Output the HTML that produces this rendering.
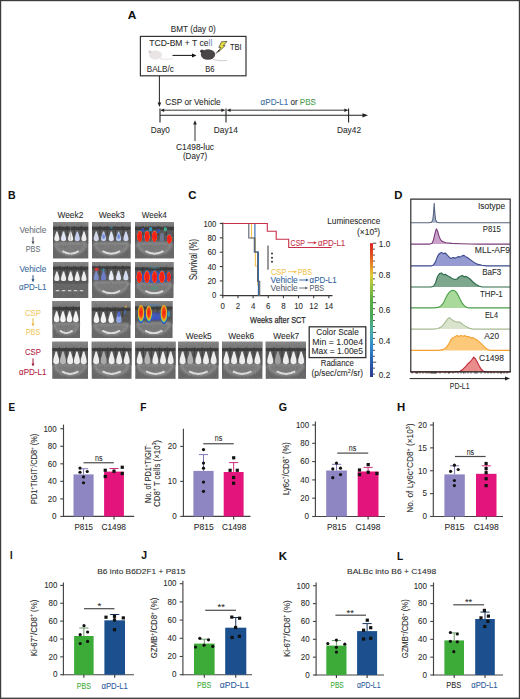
<!DOCTYPE html>
<html><head><meta charset="utf-8"><title>Figure</title>
<style>
html,body{margin:0;padding:0;background:#fff;}
body{width:520px;height:699px;overflow:hidden;}
svg{display:block;font-family:"Liberation Sans", sans-serif;}
</style></head><body>
<svg width="520" height="699" viewBox="0 0 520 699">
<rect x="0" y="0" width="520" height="699" fill="#fff"/>
<rect x="0" y="0" width="520" height="1.2" fill="#3c3c3c"/>
<rect x="0" y="0" width="1.2" height="699" fill="#3c3c3c"/>
<rect x="518.8" y="0" width="1.2" height="699" fill="#3c3c3c"/>
<rect x="0" y="697.6" width="520" height="1.4" fill="#444"/>
<text x="127.7" y="18.5" font-size="10.3" fill="#111" stroke="#111" stroke-width="0.08" font-weight="bold" textLength="8.6" lengthAdjust="spacingAndGlyphs" >A</text>
<text x="170.8" y="32.1" font-size="8.8" fill="#2b2b2b" stroke="#2b2b2b" stroke-width="0.08" textLength="45" lengthAdjust="spacingAndGlyphs" >BMT (day 0)</text>
<rect x="140.4" y="36.4" width="105.6" height="39.4" fill="none" stroke="#333" stroke-width="1.2"/>
<text x="149.3" y="46.2" font-size="8.8" fill="#2b2b2b" stroke="#2b2b2b" stroke-width="0.08" textLength="63" lengthAdjust="spacingAndGlyphs" >TCD-BM + T ce<tspan fill="#9a9ad8">ll</tspan></text>
<text x="230" y="49.8" font-size="8.4" fill="#2b2b2b" stroke="#2b2b2b" stroke-width="0.08" textLength="11.7" lengthAdjust="spacingAndGlyphs" >TBI</text>
<text x="146.8" y="72.3" font-size="8.8" fill="#2b2b2b" stroke="#2b2b2b" stroke-width="0.08" textLength="27" lengthAdjust="spacingAndGlyphs" >BALB/c</text>
<text x="205.2" y="72.3" font-size="8.8" fill="#2b2b2b" stroke="#2b2b2b" stroke-width="0.08" textLength="9.3" lengthAdjust="spacingAndGlyphs" >B6</text>
<g fill="#ebe4e4" stroke="none"><ellipse cx="155.5" cy="55" rx="6.5" ry="4.6"/><ellipse cx="150" cy="51.8" rx="1.6" ry="1.6" fill="#d8d0d0"/><path d="M160 58.8 Q167 60 173 58.6" stroke="#e6dede" stroke-width="0.9" fill="none"/></g>
<line x1="172.5" y1="55.4" x2="194" y2="55.4" stroke="#111" stroke-width="1.0"/>
<polygon points="196.5,55.4 192,53.4 192,57.4" fill="#111"/>
<g><ellipse cx="208" cy="54.5" rx="7.2" ry="5.2" fill="#4a4547"/><ellipse cx="202" cy="51.2" rx="1.9" ry="1.7" fill="#3d393b"/><path d="M213 59.5 Q220 61.5 227 60.5" stroke="#cfcfcf" stroke-width="1" fill="none"/></g>
<line x1="216.2" y1="53.4" x2="219.5" y2="49.5" stroke="#111" stroke-width="0.9"/>
<polygon points="221.5,41.8 227,41.4 223.2,45.6 225.2,45.6 218.4,52 220.8,47.4 218.8,47.4" fill="#e8e040" stroke="#222" stroke-width="0.6"/>
<line x1="159.4" y1="75.8" x2="159.4" y2="104" stroke="#222" stroke-width="1.0"/>
<polygon points="159.4,107 157.6,102.6 161.2,102.6" fill="#222"/>
<text x="165.3" y="105.4" font-size="8.3" fill="#2b2b2b" stroke="#2b2b2b" stroke-width="0.08" textLength="55.4" lengthAdjust="spacingAndGlyphs" >CSP or Vehicle</text>
<text x="260.6" y="104.6" font-size="8.3" fill="#2b2b2b" stroke="#2b2b2b" stroke-width="0.08" textLength="55.4" lengthAdjust="spacingAndGlyphs" ><tspan fill="#3a74b4">αPD-L1</tspan> or <tspan fill="#4caf50">PBS</tspan></text>
<line x1="160" y1="115.3" x2="364" y2="115.3" stroke="#222" stroke-width="1.1"/>
<polygon points="368,115.3 362.5,113.2 362.5,117.4" fill="#222"/>
<line x1="161" y1="110.2" x2="224.5" y2="110.2" stroke="#222" stroke-width="0.9"/>
<polygon points="160.6,110.2 164.2,108.4 164.2,112" fill="#222"/>
<polygon points="225,110.2 221.4,108.4 221.4,112" fill="#222"/>
<line x1="227.5" y1="110.2" x2="347.5" y2="110.2" stroke="#222" stroke-width="0.9"/>
<polygon points="227,110.2 230.6,108.4 230.6,112" fill="#222"/>
<polygon points="348,110.2 344.4,108.4 344.4,112" fill="#222"/>
<line x1="160" y1="108.5" x2="160" y2="122.6" stroke="#222" stroke-width="1.1"/>
<line x1="226" y1="108.5" x2="226" y2="122.6" stroke="#222" stroke-width="1.1"/>
<line x1="348.6" y1="108.5" x2="348.6" y2="122.6" stroke="#222" stroke-width="1.1"/>
<text x="150.8" y="132.6" font-size="8.3" fill="#2b2b2b" stroke="#2b2b2b" stroke-width="0.08" textLength="19" lengthAdjust="spacingAndGlyphs" >Day0</text>
<text x="213.8" y="132.6" font-size="8.3" fill="#2b2b2b" stroke="#2b2b2b" stroke-width="0.08" textLength="24" lengthAdjust="spacingAndGlyphs" >Day14</text>
<text x="337" y="132.6" font-size="8.3" fill="#2b2b2b" stroke="#2b2b2b" stroke-width="0.08" textLength="24" lengthAdjust="spacingAndGlyphs" >Day42</text>
<line x1="195" y1="124" x2="195" y2="141" stroke="#333" stroke-width="1.0"/>
<polygon points="195,120.2 193.2,124.6 196.8,124.6" fill="#222"/>
<text x="176" y="149.8" font-size="8.6" fill="#2b2b2b" stroke="#2b2b2b" stroke-width="0.08" textLength="38" lengthAdjust="spacingAndGlyphs" >C1498-luc</text>
<text x="182.9" y="159.4" font-size="8.6" fill="#2b2b2b" stroke="#2b2b2b" stroke-width="0.08" textLength="24.2" lengthAdjust="spacingAndGlyphs" >(Day7)</text>
<text x="8" y="198.8" font-size="10.3" fill="#111" stroke="#111" stroke-width="0.08" font-weight="bold" textLength="7.6" lengthAdjust="spacingAndGlyphs" >B</text>
<text x="57.5" y="218.1" font-size="9.2" fill="#2b2b2b" stroke="#2b2b2b" stroke-width="0.08" textLength="25.8" lengthAdjust="spacingAndGlyphs" >Week2</text>
<text x="98.7" y="218.1" font-size="9.2" fill="#2b2b2b" stroke="#2b2b2b" stroke-width="0.08" textLength="26" lengthAdjust="spacingAndGlyphs" >Week3</text>
<text x="141.8" y="218.1" font-size="9.2" fill="#2b2b2b" stroke="#2b2b2b" stroke-width="0.08" textLength="25" lengthAdjust="spacingAndGlyphs" >Week4</text>
<text x="185.8" y="338.8" font-size="9.2" fill="#2b2b2b" stroke="#2b2b2b" stroke-width="0.08" textLength="26" lengthAdjust="spacingAndGlyphs" >Week5</text>
<text x="228.3" y="338.8" font-size="9.2" fill="#2b2b2b" stroke="#2b2b2b" stroke-width="0.08" textLength="26" lengthAdjust="spacingAndGlyphs" >Week6</text>
<text x="273.3" y="338.8" font-size="9.2" fill="#2b2b2b" stroke="#2b2b2b" stroke-width="0.08" textLength="26" lengthAdjust="spacingAndGlyphs" >Week7</text>
<text x="19.4" y="233" font-size="8.6" fill="#6a717c" stroke="#6a717c" stroke-width="0.08" textLength="27" lengthAdjust="spacingAndGlyphs" >Vehicle</text>
<line x1="33" y1="236.9" x2="33" y2="242.20000000000002" stroke="#4a4f58" stroke-width="1.0"/>
<polygon points="33,244.4 31.5,241.4 34.5,241.4" fill="#4a4f58"/>
<text x="25.7" y="252.1" font-size="8.6" fill="#6a717c" stroke="#6a717c" stroke-width="0.08" textLength="14.6" lengthAdjust="spacingAndGlyphs" >PBS</text>
<text x="19.4" y="271.6" font-size="8.6" fill="#3a6a9e" stroke="#3a6a9e" stroke-width="0.08" textLength="27" lengthAdjust="spacingAndGlyphs" >Vehicle</text>
<line x1="33" y1="275.2" x2="33" y2="280.0" stroke="#23497a" stroke-width="1.0"/>
<polygon points="33,282.2 31.5,279.2 34.5,279.2" fill="#23497a"/>
<text x="19" y="290.4" font-size="8.6" fill="#3a6a9e" stroke="#3a6a9e" stroke-width="0.08" textLength="27.4" lengthAdjust="spacingAndGlyphs" >αPD-L1</text>
<text x="25" y="315.8" font-size="8.6" fill="#f2c95e" stroke="#f2c95e" stroke-width="0.08" textLength="15.9" lengthAdjust="spacingAndGlyphs" >CSP</text>
<line x1="33" y1="318.2" x2="33" y2="324.2" stroke="#e8b640" stroke-width="1.0"/>
<polygon points="33,326.4 31.5,323.4 34.5,323.4" fill="#e8b640"/>
<text x="25.7" y="334.7" font-size="8.6" fill="#f2c95e" stroke="#f2c95e" stroke-width="0.08" textLength="14.6" lengthAdjust="spacingAndGlyphs" >PBS</text>
<text x="25" y="355.4" font-size="8.6" fill="#b3213f" stroke="#b3213f" stroke-width="0.08" textLength="15.9" lengthAdjust="spacingAndGlyphs" >CSP</text>
<line x1="33" y1="358.4" x2="33" y2="364.40000000000003" stroke="#a01838" stroke-width="1.0"/>
<polygon points="33,366.6 31.5,363.6 34.5,363.6" fill="#a01838"/>
<text x="19" y="374.8" font-size="8.6" fill="#b3213f" stroke="#b3213f" stroke-width="0.08" textLength="27.4" lengthAdjust="spacingAndGlyphs" >αPD-L1</text>
<defs><filter id="bl" x="-20%" y="-20%" width="140%" height="140%"><feGaussianBlur stdDeviation="0.45"/></filter><filter id="bl2" x="-30%" y="-30%" width="160%" height="160%"><feGaussianBlur stdDeviation="0.8"/></filter></defs>
<defs><linearGradient id="topg" x1="0" y1="0" x2="0" y2="1"><stop offset="0" stop-color="#787878"/><stop offset="1" stop-color="#626262"/></linearGradient><filter id="nz" x="0" y="0" width="1" height="1" filterUnits="objectBoundingBox"><feTurbulence type="fractalNoise" baseFrequency="0.9 0.35" numOctaves="2" seed="5" result="t"/><feColorMatrix type="matrix" values="0.33 0.33 0.33 0 0  0.33 0.33 0.33 0 0  0.33 0.33 0.33 0 0  0 0 0 0 1"/></filter></defs>
<defs><radialGradient id="hA"><stop offset="0" stop-color="#f41c10"/><stop offset="0.68" stop-color="#f2261a"/><stop offset="0.8" stop-color="#e86020"/><stop offset="0.9" stop-color="#4878c0" stop-opacity="0.8"/><stop offset="1" stop-color="#3048c0" stop-opacity="0"/></radialGradient><radialGradient id="hB" cy="0.4" r="0.6"><stop offset="0" stop-color="#f41c10"/><stop offset="0.4" stop-color="#f04a14"/><stop offset="0.58" stop-color="#f0a020"/><stop offset="0.7" stop-color="#c0c830"/><stop offset="0.8" stop-color="#30a0c8"/><stop offset="0.9" stop-color="#2c44c0"/><stop offset="1" stop-color="#2c44c0" stop-opacity="0"/></radialGradient><radialGradient id="hC"><stop offset="0" stop-color="#4a6ad0"/><stop offset="0.6" stop-color="#3a52c0"/><stop offset="1" stop-color="#3048b8" stop-opacity="0"/></radialGradient></defs>
<g><rect x="53" y="222" width="35.20" height="36.40" fill="#505050"/><rect x="53" y="222" width="35.20" height="4.73" fill="url(#topg)"/><rect x="53" y="226.73" width="35.20" height="3.28" fill="#1a1a1a"/><rect x="53" y="230.01" width="35.20" height="13.83" fill="#3c3c3c"/><path d="M55.11,242.75 C55.82,258.40 85.38,258.40 86.09,242.75 Z" fill="#686868" stroke="#8e8e8e" stroke-width="1.5" filter="url(#bl2)"/><path d="M62.50,251.12 Q70.60,256.22 78.70,251.12" fill="none" stroke="#e4e4e4" stroke-width="1.9" filter="url(#bl)"/><rect x="59.44" y="226.00" width="1.2" height="9.83" fill="#161616" opacity="0.8"/><rect x="66.48" y="226.00" width="1.2" height="9.83" fill="#161616" opacity="0.8"/><rect x="73.52" y="226.00" width="1.2" height="9.83" fill="#161616" opacity="0.8"/><rect x="80.56" y="226.00" width="1.2" height="9.83" fill="#161616" opacity="0.8"/><rect x="53" y="222" width="35.20" height="36.40" filter="url(#nz)" opacity="0.22"/><path d="M56.32,231.46 L57.42,231.46 C58.25,234.52 59.72,237.78 59.40,239.62 C59.08,241.86 54.66,241.86 54.34,239.62 C54.02,237.78 55.49,234.52 56.32,231.46Z" fill="#ededed" filter="url(#bl)"/><path d="M63.01,231.46 L64.11,231.46 C64.94,234.52 66.41,237.78 66.09,239.62 C65.77,241.86 61.35,241.86 61.03,239.62 C60.71,237.78 62.18,234.52 63.01,231.46Z" fill="#dfe4f4" filter="url(#bl)"/><path d="M70.05,231.46 L71.15,231.46 C71.98,234.52 73.45,237.78 73.13,239.62 C72.81,241.86 68.39,241.86 68.07,239.62 C67.75,237.78 69.22,234.52 70.05,231.46Z" fill="#ededed" filter="url(#bl)"/><path d="M76.74,231.46 L77.84,231.46 C78.67,234.52 80.14,237.78 79.82,239.62 C79.50,241.86 75.08,241.86 74.76,239.62 C74.44,237.78 75.91,234.52 76.74,231.46Z" fill="#c8d0f0" filter="url(#bl)"/><path d="M83.42,231.46 L84.53,231.46 C85.36,234.52 86.83,237.78 86.51,239.62 C86.18,241.86 81.77,241.86 81.45,239.62 C81.12,237.78 82.60,234.52 83.42,231.46Z" fill="#ededed" filter="url(#bl)"/><rect x="70.20" y="222" width="0.8" height="36.40" fill="#888" opacity="0.5"/></g>
<g><rect x="92" y="222" width="38.60" height="36.40" fill="#505050"/><rect x="92" y="222" width="38.60" height="4.73" fill="url(#topg)"/><rect x="92" y="226.73" width="38.60" height="3.28" fill="#1a1a1a"/><rect x="92" y="230.01" width="38.60" height="13.83" fill="#3c3c3c"/><path d="M94.32,242.75 C95.09,258.40 127.51,258.40 128.28,242.75 Z" fill="#686868" stroke="#8e8e8e" stroke-width="1.5" filter="url(#bl2)"/><path d="M102.42,251.12 Q111.30,256.22 120.18,251.12" fill="none" stroke="#e4e4e4" stroke-width="1.9" filter="url(#bl)"/><rect x="99.12" y="226.00" width="1.2" height="9.83" fill="#161616" opacity="0.8"/><rect x="106.84" y="226.00" width="1.2" height="9.83" fill="#161616" opacity="0.8"/><rect x="114.56" y="226.00" width="1.2" height="9.83" fill="#161616" opacity="0.8"/><rect x="122.28" y="226.00" width="1.2" height="9.83" fill="#161616" opacity="0.8"/><rect x="92" y="222" width="38.60" height="36.40" filter="url(#nz)" opacity="0.22"/><path d="M95.69,231.46 L96.80,231.46 C97.63,234.52 99.10,237.78 98.78,239.62 C98.45,241.86 94.04,241.86 93.72,239.62 C93.39,237.78 94.87,234.52 95.69,231.46Z" fill="#d2d8ea" filter="url(#bl)"/><path d="M103.03,231.46 L104.13,231.46 C104.96,234.52 106.43,237.78 106.11,239.62 C105.79,241.86 101.37,241.86 101.05,239.62 C100.73,237.78 102.20,234.52 103.03,231.46Z" fill="#c0cdef" filter="url(#bl)"/><path d="M110.75,231.46 L111.85,231.46 C112.68,234.52 114.15,237.78 113.83,239.62 C113.51,241.86 109.09,241.86 108.77,239.62 C108.45,237.78 109.92,234.52 110.75,231.46Z" fill="#dde3f0" filter="url(#bl)"/><path d="M118.08,231.46 L119.19,231.46 C120.01,234.52 121.49,237.78 121.16,239.62 C120.84,241.86 116.43,241.86 116.10,239.62 C115.78,237.78 117.25,234.52 118.08,231.46Z" fill="#b8c9ee" filter="url(#bl)"/><path d="M125.42,231.46 L126.52,231.46 C127.35,234.52 128.82,237.78 128.50,239.62 C128.18,241.86 123.76,241.86 123.44,239.62 C123.12,237.78 124.59,234.52 125.42,231.46Z" fill="#cfd8f0" filter="url(#bl)"/><ellipse cx="103.58" cy="236.56" rx="1.4" ry="2.5" fill="#3a52c8" opacity="0.5" filter="url(#bl)"/><ellipse cx="118.63" cy="236.56" rx="1.4" ry="2.5" fill="#3a52c8" opacity="0.5" filter="url(#bl)"/><ellipse cx="111.30" cy="227.46" rx="1.5" ry="1.5" fill="#30a0c8" opacity="0.4" filter="url(#bl)"/></g>
<g><rect x="135" y="222" width="39.00" height="36.40" fill="#505050"/><rect x="135" y="222" width="39.00" height="4.73" fill="url(#topg)"/><rect x="135" y="226.73" width="39.00" height="3.28" fill="#1a1a1a"/><rect x="135" y="230.01" width="39.00" height="13.83" fill="#3c3c3c"/><path d="M137.34,242.75 C138.12,258.40 170.88,258.40 171.66,242.75 Z" fill="#686868" stroke="#8e8e8e" stroke-width="1.5" filter="url(#bl2)"/><path d="M145.53,251.12 Q154.50,256.22 163.47,251.12" fill="none" stroke="#e4e4e4" stroke-width="1.9" filter="url(#bl)"/><rect x="142.20" y="226.00" width="1.2" height="9.83" fill="#161616" opacity="0.8"/><rect x="150.00" y="226.00" width="1.2" height="9.83" fill="#161616" opacity="0.8"/><rect x="157.80" y="226.00" width="1.2" height="9.83" fill="#161616" opacity="0.8"/><rect x="165.60" y="226.00" width="1.2" height="9.83" fill="#161616" opacity="0.8"/><rect x="135" y="222" width="39.00" height="36.40" filter="url(#nz)" opacity="0.22"/><ellipse cx="139.68" cy="236.56" rx="3.1" ry="6.8" fill="url(#hA)" opacity="1" filter="url(#bl)"/><ellipse cx="147.09" cy="236.56" rx="3.1" ry="6.8" fill="url(#hA)" opacity="1" filter="url(#bl)"/><ellipse cx="154.50" cy="236.56" rx="3.1" ry="6.8" fill="url(#hA)" opacity="1" filter="url(#bl)"/><ellipse cx="169.32" cy="239.11" rx="3.0" ry="5.6" fill="url(#hA)" opacity="1" filter="url(#bl)"/><ellipse cx="161.91" cy="237.29" rx="2.0" ry="4.5" fill="#707890" opacity="1" filter="url(#bl)"/><ellipse cx="150.60" cy="229.28" rx="1.6" ry="2.2" fill="#30a0c8" opacity="0.9" filter="url(#bl)"/><ellipse cx="165.42" cy="229.28" rx="1.6" ry="2.2" fill="#40c0a0" opacity="0.8" filter="url(#bl)"/><ellipse cx="142.80" cy="230.01" rx="1.4" ry="2" fill="#3a52c8" opacity="0.8" filter="url(#bl)"/><ellipse cx="158.40" cy="230.74" rx="1.4" ry="2.2" fill="#3a52c8" opacity="0.8" filter="url(#bl)"/></g>
<g><rect x="53" y="262" width="35.20" height="36.00" fill="#505050"/><rect x="53" y="262" width="35.20" height="4.68" fill="url(#topg)"/><rect x="53" y="266.68" width="35.20" height="3.24" fill="#1a1a1a"/><rect x="53" y="269.92" width="35.20" height="13.68" fill="#3c3c3c"/><rect x="55.82" y="290.08" width="3.52" height="1.2" fill="#e0e0e0" filter="url(#bl)"/><rect x="61.80" y="290.08" width="3.52" height="1.2" fill="#e0e0e0" filter="url(#bl)"/><rect x="67.78" y="290.08" width="3.52" height="1.2" fill="#e0e0e0" filter="url(#bl)"/><rect x="73.77" y="290.08" width="3.52" height="1.2" fill="#e0e0e0" filter="url(#bl)"/><rect x="79.75" y="290.08" width="3.52" height="1.2" fill="#e0e0e0" filter="url(#bl)"/><rect x="59.44" y="265.96" width="1.2" height="9.72" fill="#161616" opacity="0.8"/><rect x="66.48" y="265.96" width="1.2" height="9.72" fill="#161616" opacity="0.8"/><rect x="73.52" y="265.96" width="1.2" height="9.72" fill="#161616" opacity="0.8"/><rect x="80.56" y="265.96" width="1.2" height="9.72" fill="#161616" opacity="0.8"/><rect x="53" y="262" width="35.20" height="36.00" filter="url(#nz)" opacity="0.22"/><path d="M56.32,271.40 L57.42,271.40 C58.25,274.40 59.72,277.60 59.40,279.40 C59.08,281.60 54.66,281.60 54.34,279.40 C54.02,277.60 55.49,274.40 56.32,271.40Z" fill="#ededed" filter="url(#bl)"/><path d="M63.01,271.40 L64.11,271.40 C64.94,274.40 66.41,277.60 66.09,279.40 C65.77,281.60 61.35,281.60 61.03,279.40 C60.71,277.60 62.18,274.40 63.01,271.40Z" fill="#ededed" filter="url(#bl)"/><path d="M70.05,271.40 L71.15,271.40 C71.98,274.40 73.45,277.60 73.13,279.40 C72.81,281.60 68.39,281.60 68.07,279.40 C67.75,277.60 69.22,274.40 70.05,271.40Z" fill="#ededed" filter="url(#bl)"/><path d="M76.74,271.40 L77.84,271.40 C78.67,274.40 80.14,277.60 79.82,279.40 C79.50,281.60 75.08,281.60 74.76,279.40 C74.44,277.60 75.91,274.40 76.74,271.40Z" fill="#ededed" filter="url(#bl)"/><path d="M83.42,271.40 L84.53,271.40 C85.36,274.40 86.83,277.60 86.51,279.40 C86.18,281.60 81.77,281.60 81.45,279.40 C81.12,277.60 82.60,274.40 83.42,271.40Z" fill="#ededed" filter="url(#bl)"/></g>
<g><rect x="92" y="262" width="38.50" height="36.00" fill="#505050"/><rect x="92" y="262" width="38.50" height="4.32" fill="url(#topg)"/><rect x="92" y="266.32" width="38.50" height="3.24" fill="#1a1a1a"/><rect x="92" y="269.56" width="38.50" height="13.32" fill="#3c3c3c"/><path d="M94.31,281.80 C95.08,298.00 127.42,298.00 128.19,281.80 Z" fill="#686868" stroke="#8e8e8e" stroke-width="1.5" filter="url(#bl2)"/><path d="M102.39,290.80 Q111.25,295.84 120.11,290.80" fill="none" stroke="#e4e4e4" stroke-width="1.9" filter="url(#bl)"/><rect x="99.10" y="265.60" width="1.2" height="9.36" fill="#161616" opacity="0.8"/><rect x="106.80" y="265.60" width="1.2" height="9.36" fill="#161616" opacity="0.8"/><rect x="114.50" y="265.60" width="1.2" height="9.36" fill="#161616" opacity="0.8"/><rect x="122.20" y="265.60" width="1.2" height="9.36" fill="#161616" opacity="0.8"/><rect x="92" y="262" width="38.50" height="36.00" filter="url(#nz)" opacity="0.22"/><path d="M95.68,270.68 L96.79,270.68 C97.61,273.68 99.09,276.88 98.77,278.68 C98.44,280.88 94.03,280.88 93.70,278.68 C93.38,276.88 94.86,273.68 95.68,270.68Z" fill="#7c8cc4" filter="url(#bl)"/><path d="M103.00,270.68 L104.10,270.68 C104.93,273.68 106.40,276.88 106.08,278.68 C105.76,280.88 101.34,280.88 101.02,278.68 C100.70,276.88 102.17,273.68 103.00,270.68Z" fill="#6c7cc8" filter="url(#bl)"/><path d="M110.70,270.68 L111.80,270.68 C112.63,273.68 114.10,276.88 113.78,278.68 C113.46,280.88 109.04,280.88 108.72,278.68 C108.40,276.88 109.87,273.68 110.70,270.68Z" fill="#e6eaf4" filter="url(#bl)"/><path d="M118.01,270.68 L119.12,270.68 C119.94,273.68 121.42,276.88 121.09,278.68 C120.77,280.88 116.36,280.88 116.03,278.68 C115.71,276.88 117.19,273.68 118.01,270.68Z" fill="#dce2f2" filter="url(#bl)"/><path d="M125.33,270.68 L126.43,270.68 C127.26,273.68 128.73,276.88 128.41,278.68 C128.09,280.88 123.67,280.88 123.35,278.68 C123.03,276.88 124.50,273.68 125.33,270.68Z" fill="#d2daf0" filter="url(#bl)"/><ellipse cx="96.62" cy="269.20" rx="2.0" ry="1.8" fill="#e03030" opacity="0.9" filter="url(#bl)"/><ellipse cx="103.55" cy="269.92" rx="1.2" ry="1.8" fill="#30a0c8" opacity="0.6" filter="url(#bl)"/></g>
<g><rect x="135" y="262" width="38.50" height="36.00" fill="#505050"/><rect x="135" y="262" width="38.50" height="5.40" fill="url(#topg)"/><rect x="135" y="267.40" width="38.50" height="3.24" fill="#1a1a1a"/><rect x="135" y="270.64" width="38.50" height="13.68" fill="#3c3c3c"/><path d="M137.31,283.24 C138.08,298.00 170.42,298.00 171.19,283.24 Z" fill="#686868" stroke="#8e8e8e" stroke-width="1.5" filter="url(#bl2)"/><path d="M145.40,290.80 Q154.25,295.84 163.10,290.80" fill="none" stroke="#e4e4e4" stroke-width="1.9" filter="url(#bl)"/><rect x="142.10" y="266.68" width="1.2" height="9.72" fill="#161616" opacity="0.8"/><rect x="149.80" y="266.68" width="1.2" height="9.72" fill="#161616" opacity="0.8"/><rect x="157.50" y="266.68" width="1.2" height="9.72" fill="#161616" opacity="0.8"/><rect x="165.20" y="266.68" width="1.2" height="9.72" fill="#161616" opacity="0.8"/><rect x="135" y="262" width="38.50" height="36.00" filter="url(#nz)" opacity="0.22"/><ellipse cx="154.25" cy="277.12" rx="20" ry="7" fill="url(#hC)" opacity="0.9" filter="url(#bl)"/><ellipse cx="139.24" cy="277.12" rx="3.3" ry="7.2" fill="url(#hA)" opacity="1" filter="url(#bl)"/><ellipse cx="146.94" cy="277.12" rx="3.3" ry="7.2" fill="url(#hA)" opacity="1" filter="url(#bl)"/><ellipse cx="154.63" cy="277.12" rx="3.1" ry="7.2" fill="url(#hA)" opacity="1" filter="url(#bl)"/><ellipse cx="161.95" cy="277.12" rx="3.3" ry="7.2" fill="url(#hA)" opacity="1" filter="url(#bl)"/><ellipse cx="168.88" cy="277.12" rx="2.5" ry="6.2" fill="url(#hA)" opacity="0.9" filter="url(#bl)"/><ellipse cx="154.25" cy="287.92" rx="4" ry="2" fill="#40a080" opacity="0.4" filter="url(#bl)"/><ellipse cx="154.25" cy="267.40" rx="6" ry="1.5" fill="#5090a0" opacity="0.4" filter="url(#bl)"/></g>
<g><rect x="52.5" y="301" width="27.50" height="37.00" fill="#505050"/><rect x="52.5" y="301" width="27.50" height="5.92" fill="url(#topg)"/><rect x="52.5" y="306.92" width="27.50" height="3.33" fill="#1a1a1a"/><rect x="52.5" y="310.25" width="27.50" height="14.06" fill="#3c3c3c"/><path d="M54.15,323.20 C54.70,338.00 77.80,338.00 78.35,323.20 Z" fill="#686868" stroke="#8e8e8e" stroke-width="1.5" filter="url(#bl2)"/><path d="M59.92,330.60 Q66.25,335.78 72.58,330.60" fill="none" stroke="#e4e4e4" stroke-width="1.9" filter="url(#bl)"/><rect x="58.77" y="306.18" width="1.2" height="9.99" fill="#161616" opacity="0.8"/><rect x="65.65" y="306.18" width="1.2" height="9.99" fill="#161616" opacity="0.8"/><rect x="72.53" y="306.18" width="1.2" height="9.99" fill="#161616" opacity="0.8"/><rect x="52.5" y="301" width="27.50" height="37.00" filter="url(#nz)" opacity="0.22"/><path d="M56.02,311.16 L57.23,311.16 C58.12,314.61 59.73,318.29 59.38,320.36 C59.02,322.89 54.23,322.89 53.88,320.36 C53.52,318.29 55.12,314.61 56.02,311.16Z" fill="#f4f4f4" filter="url(#bl)"/><path d="M62.35,311.16 L63.55,311.16 C64.45,314.61 66.05,318.29 65.70,320.36 C65.35,322.89 60.55,322.89 60.20,320.36 C59.85,318.29 61.45,314.61 62.35,311.16Z" fill="#f4f4f4" filter="url(#bl)"/><path d="M68.95,311.16 L70.15,311.16 C71.05,314.61 72.65,318.29 72.30,320.36 C71.95,322.89 67.15,322.89 66.80,320.36 C66.45,318.29 68.05,314.61 68.95,311.16Z" fill="#f4f4f4" filter="url(#bl)"/><path d="M75.28,311.16 L76.47,311.16 C77.38,314.61 78.97,318.29 78.62,320.36 C78.28,322.89 73.47,322.89 73.12,320.36 C72.78,318.29 74.38,314.61 75.28,311.16Z" fill="#f4f4f4" filter="url(#bl)"/></g>
<g><rect x="91.8" y="301" width="38.70" height="37.00" fill="#505050"/><rect x="91.8" y="301" width="38.70" height="6.66" fill="url(#topg)"/><rect x="91.8" y="307.66" width="38.70" height="3.33" fill="#1a1a1a"/><rect x="91.8" y="310.99" width="38.70" height="14.06" fill="#3c3c3c"/><path d="M94.12,323.94 C94.90,338.00 127.40,338.00 128.18,323.94 Z" fill="#686868" stroke="#8e8e8e" stroke-width="1.5" filter="url(#bl2)"/><path d="M102.25,330.60 Q111.15,335.78 120.05,330.60" fill="none" stroke="#e4e4e4" stroke-width="1.9" filter="url(#bl)"/><rect x="98.94" y="306.92" width="1.2" height="9.99" fill="#161616" opacity="0.8"/><rect x="106.68" y="306.92" width="1.2" height="9.99" fill="#161616" opacity="0.8"/><rect x="114.42" y="306.92" width="1.2" height="9.99" fill="#161616" opacity="0.8"/><rect x="122.16" y="306.92" width="1.2" height="9.99" fill="#161616" opacity="0.8"/><rect x="91.8" y="301" width="38.70" height="37.00" filter="url(#nz)" opacity="0.22"/><path d="M95.84,311.90 L97.04,311.90 C97.94,315.35 99.54,319.03 99.19,321.10 C98.84,323.63 94.04,323.63 93.69,321.10 C93.34,319.03 94.94,315.35 95.84,311.90Z" fill="#f2f2f2" filter="url(#bl)"/><path d="M102.81,311.90 L104.01,311.90 C104.91,315.35 106.51,319.03 106.16,321.10 C105.81,323.63 101.01,323.63 100.66,321.10 C100.31,319.03 101.91,315.35 102.81,311.90Z" fill="#f2f2f2" filter="url(#bl)"/><path d="M110.55,311.90 L111.75,311.90 C112.65,315.35 114.25,319.03 113.90,321.10 C113.55,323.63 108.75,323.63 108.40,321.10 C108.05,319.03 109.65,315.35 110.55,311.90Z" fill="#f2f2f2" filter="url(#bl)"/><path d="M118.29,311.90 L119.49,311.90 C120.39,315.35 121.99,319.03 121.64,321.10 C121.29,323.63 116.49,323.63 116.14,321.10 C115.79,319.03 117.39,315.35 118.29,311.90Z" fill="#8ea4e4" filter="url(#bl)"/><ellipse cx="118.89" cy="313.95" rx="1.6" ry="3" fill="#3a52c8" opacity="0.7" filter="url(#bl)"/><ellipse cx="125.08" cy="312.10" rx="1.3" ry="2.6" fill="#4070c0" opacity="0.6" filter="url(#bl)"/><ellipse cx="125.86" cy="306.55" rx="1" ry="1.5" fill="#e0a030" opacity="0.6" filter="url(#bl)"/></g>
<g><rect x="135" y="301" width="37.50" height="37.00" fill="#505050"/><rect x="135" y="301" width="37.50" height="5.55" fill="url(#topg)"/><rect x="135" y="306.55" width="37.50" height="3.33" fill="#1a1a1a"/><rect x="135" y="309.88" width="37.50" height="14.06" fill="#3c3c3c"/><path d="M137.25,322.83 C138.00,338.00 169.50,338.00 170.25,322.83 Z" fill="#686868" stroke="#8e8e8e" stroke-width="1.5" filter="url(#bl2)"/><path d="M145.12,330.60 Q153.75,335.78 162.38,330.60" fill="none" stroke="#e4e4e4" stroke-width="1.9" filter="url(#bl)"/><rect x="141.90" y="305.81" width="1.2" height="9.99" fill="#161616" opacity="0.8"/><rect x="149.40" y="305.81" width="1.2" height="9.99" fill="#161616" opacity="0.8"/><rect x="156.90" y="305.81" width="1.2" height="9.99" fill="#161616" opacity="0.8"/><rect x="164.40" y="305.81" width="1.2" height="9.99" fill="#161616" opacity="0.8"/><rect x="135" y="301" width="37.50" height="37.00" filter="url(#nz)" opacity="0.22"/><ellipse cx="153.75" cy="316.54" rx="16" ry="5" fill="url(#hC)" opacity="0.8" filter="url(#bl)"/><ellipse cx="141.00" cy="314.32" rx="3.4" ry="9.5" fill="url(#hB)" opacity="1" filter="url(#bl)"/><ellipse cx="148.88" cy="314.32" rx="3.2" ry="9" fill="url(#hB)" opacity="1" filter="url(#bl)"/><ellipse cx="163.88" cy="314.69" rx="3.6" ry="10" fill="url(#hB)" opacity="1" filter="url(#bl)"/><ellipse cx="155.62" cy="317.65" rx="3.2" ry="1.8" fill="#3a52c8" opacity="0.9" filter="url(#bl)"/><ellipse cx="168.75" cy="313.95" rx="1.4" ry="3" fill="#30a0c8" opacity="0.8" filter="url(#bl)"/><ellipse cx="153.75" cy="305.44" rx="6" ry="1.5" fill="#4080c0" opacity="0.4" filter="url(#bl)"/></g>
<g><rect x="52.3" y="341.8" width="35.70" height="37.00" fill="#505050"/><rect x="52.3" y="341.8" width="35.70" height="6.29" fill="url(#topg)"/><rect x="52.3" y="348.09" width="35.70" height="3.33" fill="#1a1a1a"/><rect x="52.3" y="351.42" width="35.70" height="14.06" fill="#3c3c3c"/><path d="M54.44,364.37 C55.16,378.80 85.14,378.80 85.86,364.37 Z" fill="#686868" stroke="#8e8e8e" stroke-width="1.5" filter="url(#bl2)"/><path d="M61.94,371.40 Q70.15,376.58 78.36,371.40" fill="none" stroke="#e4e4e4" stroke-width="1.9" filter="url(#bl)"/><rect x="58.84" y="347.35" width="1.2" height="9.99" fill="#161616" opacity="0.8"/><rect x="65.98" y="347.35" width="1.2" height="9.99" fill="#161616" opacity="0.8"/><rect x="73.12" y="347.35" width="1.2" height="9.99" fill="#161616" opacity="0.8"/><rect x="80.26" y="347.35" width="1.2" height="9.99" fill="#161616" opacity="0.8"/><rect x="52.3" y="341.8" width="35.70" height="37.00" filter="url(#nz)" opacity="0.22"/><path d="M55.58,351.58 L56.88,351.58 C57.85,355.48 59.57,359.64 59.20,361.98 C58.82,364.84 53.63,364.84 53.26,361.98 C52.88,359.64 54.61,355.48 55.58,351.58Z" fill="#ededed" filter="url(#bl)"/><path d="M62.36,351.58 L63.66,351.58 C64.63,355.48 66.36,359.64 65.98,361.98 C65.60,364.84 60.42,364.84 60.04,361.98 C59.66,359.64 61.39,355.48 62.36,351.58Z" fill="#b8b8b8" filter="url(#bl)"/><path d="M69.50,351.58 L70.80,351.58 C71.77,355.48 73.50,359.64 73.12,361.98 C72.74,364.84 67.56,364.84 67.18,361.98 C66.80,359.64 68.53,355.48 69.50,351.58Z" fill="#ededed" filter="url(#bl)"/><path d="M76.28,351.58 L77.58,351.58 C78.55,355.48 80.28,359.64 79.90,361.98 C79.52,364.84 74.34,364.84 73.96,361.98 C73.58,359.64 75.31,355.48 76.28,351.58Z" fill="#ededed" filter="url(#bl)"/><path d="M83.07,351.58 L84.36,351.58 C85.34,355.48 87.06,359.64 86.69,361.98 C86.31,364.84 81.12,364.84 80.75,361.98 C80.37,359.64 82.10,355.48 83.07,351.58Z" fill="#ededed" filter="url(#bl)"/></g>
<g><rect x="91.8" y="341.8" width="39.70" height="37.00" fill="#505050"/><rect x="91.8" y="341.8" width="39.70" height="6.29" fill="url(#topg)"/><rect x="91.8" y="348.09" width="39.70" height="3.33" fill="#1a1a1a"/><rect x="91.8" y="351.42" width="39.70" height="14.06" fill="#3c3c3c"/><path d="M94.18,364.37 C94.98,378.80 128.32,378.80 129.12,364.37 Z" fill="#686868" stroke="#8e8e8e" stroke-width="1.5" filter="url(#bl2)"/><path d="M102.52,371.40 Q111.65,376.58 120.78,371.40" fill="none" stroke="#e4e4e4" stroke-width="1.9" filter="url(#bl)"/><rect x="99.14" y="347.35" width="1.2" height="9.99" fill="#161616" opacity="0.8"/><rect x="107.08" y="347.35" width="1.2" height="9.99" fill="#161616" opacity="0.8"/><rect x="115.02" y="347.35" width="1.2" height="9.99" fill="#161616" opacity="0.8"/><rect x="122.96" y="347.35" width="1.2" height="9.99" fill="#161616" opacity="0.8"/><rect x="91.8" y="341.8" width="39.70" height="37.00" filter="url(#nz)" opacity="0.22"/><path d="M95.52,351.58 L96.81,351.58 C97.79,355.48 99.52,359.64 99.14,361.98 C98.76,364.84 93.58,364.84 93.20,361.98 C92.82,359.64 94.55,355.48 95.52,351.58Z" fill="#ededed" filter="url(#bl)"/><path d="M103.06,351.58 L104.36,351.58 C105.33,355.48 107.06,359.64 106.68,361.98 C106.30,364.84 101.12,364.84 100.74,361.98 C100.36,359.64 102.09,355.48 103.06,351.58Z" fill="#a8a8a8" filter="url(#bl)"/><path d="M111.00,351.58 L112.30,351.58 C113.27,355.48 115.00,359.64 114.62,361.98 C114.24,364.84 109.06,364.84 108.68,361.98 C108.30,359.64 110.03,355.48 111.00,351.58Z" fill="#ededed" filter="url(#bl)"/><path d="M118.55,351.58 L119.84,351.58 C120.81,355.48 122.54,359.64 122.16,361.98 C121.78,364.84 116.60,364.84 116.22,361.98 C115.84,359.64 117.57,355.48 118.55,351.58Z" fill="#ededed" filter="url(#bl)"/><path d="M126.09,351.58 L127.38,351.58 C128.36,355.48 130.08,359.64 129.71,361.98 C129.33,364.84 124.14,364.84 123.77,361.98 C123.39,359.64 125.12,355.48 126.09,351.58Z" fill="#ededed" filter="url(#bl)"/></g>
<g><rect x="135.3" y="341.8" width="40.20" height="37.00" fill="#505050"/><rect x="135.3" y="341.8" width="40.20" height="6.29" fill="url(#topg)"/><rect x="135.3" y="348.09" width="40.20" height="3.33" fill="#1a1a1a"/><rect x="135.3" y="351.42" width="40.20" height="14.06" fill="#3c3c3c"/><path d="M137.71,364.37 C138.52,378.80 172.28,378.80 173.09,364.37 Z" fill="#686868" stroke="#8e8e8e" stroke-width="1.5" filter="url(#bl2)"/><path d="M146.15,371.40 Q155.40,376.58 164.65,371.40" fill="none" stroke="#e4e4e4" stroke-width="1.9" filter="url(#bl)"/><rect x="142.74" y="347.35" width="1.2" height="9.99" fill="#161616" opacity="0.8"/><rect x="150.78" y="347.35" width="1.2" height="9.99" fill="#161616" opacity="0.8"/><rect x="158.82" y="347.35" width="1.2" height="9.99" fill="#161616" opacity="0.8"/><rect x="166.86" y="347.35" width="1.2" height="9.99" fill="#161616" opacity="0.8"/><rect x="135.3" y="341.8" width="40.20" height="37.00" filter="url(#nz)" opacity="0.22"/><path d="M139.07,351.58 L140.37,351.58 C141.34,355.48 143.07,359.64 142.69,361.98 C142.31,364.84 137.13,364.84 136.75,361.98 C136.37,359.64 138.10,355.48 139.07,351.58Z" fill="#ededed" filter="url(#bl)"/><path d="M146.71,351.58 L148.01,351.58 C148.98,355.48 150.71,359.64 150.33,361.98 C149.95,364.84 144.77,364.84 144.39,361.98 C144.01,359.64 145.74,355.48 146.71,351.58Z" fill="#b4b4b4" filter="url(#bl)"/><path d="M154.75,351.58 L156.05,351.58 C157.02,355.48 158.75,359.64 158.37,361.98 C157.99,364.84 152.81,364.84 152.43,361.98 C152.05,359.64 153.78,355.48 154.75,351.58Z" fill="#ededed" filter="url(#bl)"/><path d="M162.39,351.58 L163.69,351.58 C164.66,355.48 166.39,359.64 166.01,361.98 C165.63,364.84 160.45,364.84 160.07,361.98 C159.69,359.64 161.42,355.48 162.39,351.58Z" fill="#ededed" filter="url(#bl)"/><path d="M170.03,351.58 L171.32,351.58 C172.30,355.48 174.02,359.64 173.65,361.98 C173.27,364.84 168.08,364.84 167.71,361.98 C167.33,359.64 169.06,355.48 170.03,351.58Z" fill="#ededed" filter="url(#bl)"/></g>
<g><rect x="178.2" y="341.8" width="40.30" height="37.00" fill="#505050"/><rect x="178.2" y="341.8" width="40.30" height="6.29" fill="url(#topg)"/><rect x="178.2" y="348.09" width="40.30" height="3.33" fill="#1a1a1a"/><rect x="178.2" y="351.42" width="40.30" height="14.06" fill="#3c3c3c"/><path d="M180.62,364.37 C181.42,378.80 215.28,378.80 216.08,364.37 Z" fill="#686868" stroke="#8e8e8e" stroke-width="1.5" filter="url(#bl2)"/><path d="M189.08,371.40 Q198.35,376.58 207.62,371.40" fill="none" stroke="#e4e4e4" stroke-width="1.9" filter="url(#bl)"/><rect x="185.66" y="347.35" width="1.2" height="9.99" fill="#161616" opacity="0.8"/><rect x="193.72" y="347.35" width="1.2" height="9.99" fill="#161616" opacity="0.8"/><rect x="201.78" y="347.35" width="1.2" height="9.99" fill="#161616" opacity="0.8"/><rect x="209.84" y="347.35" width="1.2" height="9.99" fill="#161616" opacity="0.8"/><rect x="178.2" y="341.8" width="40.30" height="37.00" filter="url(#nz)" opacity="0.22"/><path d="M181.98,351.58 L183.28,351.58 C184.25,355.48 185.98,359.64 185.60,361.98 C185.22,364.84 180.04,364.84 179.66,361.98 C179.28,359.64 181.01,355.48 181.98,351.58Z" fill="#ededed" filter="url(#bl)"/><path d="M189.64,351.58 L190.94,351.58 C191.91,355.48 193.64,359.64 193.26,361.98 C192.88,364.84 187.70,364.84 187.32,361.98 C186.94,359.64 188.67,355.48 189.64,351.58Z" fill="#b0b0b0" filter="url(#bl)"/><path d="M197.70,351.58 L199.00,351.58 C199.97,355.48 201.70,359.64 201.32,361.98 C200.94,364.84 195.76,364.84 195.38,361.98 C195.00,359.64 196.73,355.48 197.70,351.58Z" fill="#ededed" filter="url(#bl)"/><path d="M205.36,351.58 L206.66,351.58 C207.63,355.48 209.36,359.64 208.98,361.98 C208.60,364.84 203.41,364.84 203.04,361.98 C202.66,359.64 204.39,355.48 205.36,351.58Z" fill="#ededed" filter="url(#bl)"/><path d="M213.02,351.58 L214.31,351.58 C215.28,355.48 217.01,359.64 216.63,361.98 C216.26,364.84 211.07,364.84 210.69,361.98 C210.32,359.64 212.04,355.48 213.02,351.58Z" fill="#ededed" filter="url(#bl)"/></g>
<g><rect x="222" y="341.8" width="40.30" height="37.00" fill="#505050"/><rect x="222" y="341.8" width="40.30" height="6.29" fill="url(#topg)"/><rect x="222" y="348.09" width="40.30" height="3.33" fill="#1a1a1a"/><rect x="222" y="351.42" width="40.30" height="14.06" fill="#3c3c3c"/><path d="M224.42,364.37 C225.22,378.80 259.08,378.80 259.88,364.37 Z" fill="#686868" stroke="#8e8e8e" stroke-width="1.5" filter="url(#bl2)"/><path d="M232.88,371.40 Q242.15,376.58 251.42,371.40" fill="none" stroke="#e4e4e4" stroke-width="1.9" filter="url(#bl)"/><rect x="229.46" y="347.35" width="1.2" height="9.99" fill="#161616" opacity="0.8"/><rect x="237.52" y="347.35" width="1.2" height="9.99" fill="#161616" opacity="0.8"/><rect x="245.58" y="347.35" width="1.2" height="9.99" fill="#161616" opacity="0.8"/><rect x="253.64" y="347.35" width="1.2" height="9.99" fill="#161616" opacity="0.8"/><rect x="222" y="341.8" width="40.30" height="37.00" filter="url(#nz)" opacity="0.22"/><path d="M225.78,351.58 L227.08,351.58 C228.05,355.48 229.78,359.64 229.40,361.98 C229.03,364.84 223.84,364.84 223.46,361.98 C223.08,359.64 224.81,355.48 225.78,351.58Z" fill="#ededed" filter="url(#bl)"/><path d="M233.44,351.58 L234.74,351.58 C235.71,355.48 237.44,359.64 237.06,361.98 C236.68,364.84 231.50,364.84 231.12,361.98 C230.74,359.64 232.47,355.48 233.44,351.58Z" fill="#ededed" filter="url(#bl)"/><path d="M241.50,351.58 L242.80,351.58 C243.77,355.48 245.50,359.64 245.12,361.98 C244.74,364.84 239.56,364.84 239.18,361.98 C238.80,359.64 240.53,355.48 241.50,351.58Z" fill="#ededed" filter="url(#bl)"/><path d="M249.16,351.58 L250.46,351.58 C251.43,355.48 253.16,359.64 252.78,361.98 C252.40,364.84 247.22,364.84 246.84,361.98 C246.46,359.64 248.19,355.48 249.16,351.58Z" fill="#ededed" filter="url(#bl)"/><path d="M256.82,351.58 L258.11,351.58 C259.08,355.48 260.81,359.64 260.43,361.98 C260.06,364.84 254.87,364.84 254.49,361.98 C254.12,359.64 255.84,355.48 256.82,351.58Z" fill="#ededed" filter="url(#bl)"/></g>
<g><rect x="265.8" y="341.8" width="40.20" height="37.00" fill="#505050"/><rect x="265.8" y="341.8" width="40.20" height="6.29" fill="url(#topg)"/><rect x="265.8" y="348.09" width="40.20" height="3.33" fill="#1a1a1a"/><rect x="265.8" y="351.42" width="40.20" height="14.06" fill="#3c3c3c"/><path d="M268.21,364.37 C269.02,378.80 302.78,378.80 303.59,364.37 Z" fill="#686868" stroke="#8e8e8e" stroke-width="1.5" filter="url(#bl2)"/><path d="M276.65,371.40 Q285.90,376.58 295.15,371.40" fill="none" stroke="#e4e4e4" stroke-width="1.9" filter="url(#bl)"/><rect x="273.24" y="347.35" width="1.2" height="9.99" fill="#161616" opacity="0.8"/><rect x="281.28" y="347.35" width="1.2" height="9.99" fill="#161616" opacity="0.8"/><rect x="289.32" y="347.35" width="1.2" height="9.99" fill="#161616" opacity="0.8"/><rect x="297.36" y="347.35" width="1.2" height="9.99" fill="#161616" opacity="0.8"/><rect x="265.8" y="341.8" width="40.20" height="37.00" filter="url(#nz)" opacity="0.22"/><path d="M269.57,351.58 L270.87,351.58 C271.84,355.48 273.57,359.64 273.19,361.98 C272.81,364.84 267.63,364.84 267.25,361.98 C266.87,359.64 268.60,355.48 269.57,351.58Z" fill="#ededed" filter="url(#bl)"/><path d="M277.21,351.58 L278.51,351.58 C279.48,355.48 281.21,359.64 280.83,361.98 C280.45,364.84 275.27,364.84 274.89,361.98 C274.51,359.64 276.24,355.48 277.21,351.58Z" fill="#a0a0a0" filter="url(#bl)"/><path d="M285.25,351.58 L286.55,351.58 C287.52,355.48 289.25,359.64 288.87,361.98 C288.49,364.84 283.31,364.84 282.93,361.98 C282.55,359.64 284.28,355.48 285.25,351.58Z" fill="#ededed" filter="url(#bl)"/><path d="M292.89,351.58 L294.19,351.58 C295.16,355.48 296.89,359.64 296.51,361.98 C296.13,364.84 290.95,364.84 290.57,361.98 C290.19,359.64 291.92,355.48 292.89,351.58Z" fill="#ededed" filter="url(#bl)"/><path d="M300.53,351.58 L301.82,351.58 C302.80,355.48 304.52,359.64 304.15,361.98 C303.77,364.84 298.58,364.84 298.21,361.98 C297.83,359.64 299.56,355.48 300.53,351.58Z" fill="#ededed" filter="url(#bl)"/></g>
<text x="188.2" y="198.8" font-size="10.3" fill="#111" stroke="#111" stroke-width="0.08" font-weight="bold" textLength="8.2" lengthAdjust="spacingAndGlyphs" >C</text>
<line x1="222.8" y1="222.5" x2="222.8" y2="296.1" stroke="#3a3a3a" stroke-width="1.1"/>
<line x1="219.8" y1="223.5" x2="222.8" y2="223.5" stroke="#3a3a3a" stroke-width="1.1"/>
<text x="216.2" y="226.6" font-size="8.7" fill="#2b2b2b" stroke="#2b2b2b" stroke-width="0.08" text-anchor="end" textLength="12.8" lengthAdjust="spacingAndGlyphs" >100</text>
<line x1="219.8" y1="237.85" x2="222.8" y2="237.85" stroke="#3a3a3a" stroke-width="1.1"/>
<text x="216.2" y="240.95" font-size="8.7" fill="#2b2b2b" stroke="#2b2b2b" stroke-width="0.08" text-anchor="end" textLength="8.8" lengthAdjust="spacingAndGlyphs" >80</text>
<line x1="219.8" y1="252.2" x2="222.8" y2="252.2" stroke="#3a3a3a" stroke-width="1.1"/>
<text x="216.2" y="255.29999999999998" font-size="8.7" fill="#2b2b2b" stroke="#2b2b2b" stroke-width="0.08" text-anchor="end" textLength="8.8" lengthAdjust="spacingAndGlyphs" >60</text>
<line x1="219.8" y1="266.55" x2="222.8" y2="266.55" stroke="#3a3a3a" stroke-width="1.1"/>
<text x="216.2" y="269.65000000000003" font-size="8.7" fill="#2b2b2b" stroke="#2b2b2b" stroke-width="0.08" text-anchor="end" textLength="8.8" lengthAdjust="spacingAndGlyphs" >40</text>
<line x1="219.8" y1="280.9" x2="222.8" y2="280.9" stroke="#3a3a3a" stroke-width="1.1"/>
<text x="216.2" y="284.0" font-size="8.7" fill="#2b2b2b" stroke="#2b2b2b" stroke-width="0.08" text-anchor="end" textLength="8.8" lengthAdjust="spacingAndGlyphs" >20</text>
<line x1="219.8" y1="295.25" x2="222.8" y2="295.25" stroke="#3a3a3a" stroke-width="1.1"/>
<text x="216.2" y="298.35" font-size="8.7" fill="#2b2b2b" stroke="#2b2b2b" stroke-width="0.08" text-anchor="end" textLength="4.3" lengthAdjust="spacingAndGlyphs" >0</text>
<line x1="222.3" y1="295.6" x2="332.5" y2="295.6" stroke="#3a3a3a" stroke-width="1.1"/>
<line x1="222.8" y1="295.6" x2="222.8" y2="298.2" stroke="#3a3a3a" stroke-width="1.1"/>
<text x="222.8" y="309" font-size="8.6" fill="#2b2b2b" stroke="#2b2b2b" stroke-width="0.08" text-anchor="middle" textLength="4.4" lengthAdjust="spacingAndGlyphs" >0</text>
<line x1="237.95000000000002" y1="295.6" x2="237.95000000000002" y2="298.2" stroke="#3a3a3a" stroke-width="1.1"/>
<text x="237.95000000000002" y="309" font-size="8.6" fill="#2b2b2b" stroke="#2b2b2b" stroke-width="0.08" text-anchor="middle" textLength="4.4" lengthAdjust="spacingAndGlyphs" >2</text>
<line x1="253.10000000000002" y1="295.6" x2="253.10000000000002" y2="298.2" stroke="#3a3a3a" stroke-width="1.1"/>
<text x="253.10000000000002" y="309" font-size="8.6" fill="#2b2b2b" stroke="#2b2b2b" stroke-width="0.08" text-anchor="middle" textLength="4.4" lengthAdjust="spacingAndGlyphs" >4</text>
<line x1="268.25" y1="295.6" x2="268.25" y2="298.2" stroke="#3a3a3a" stroke-width="1.1"/>
<text x="268.25" y="309" font-size="8.6" fill="#2b2b2b" stroke="#2b2b2b" stroke-width="0.08" text-anchor="middle" textLength="4.4" lengthAdjust="spacingAndGlyphs" >6</text>
<line x1="283.40000000000003" y1="295.6" x2="283.40000000000003" y2="298.2" stroke="#3a3a3a" stroke-width="1.1"/>
<text x="283.40000000000003" y="309" font-size="8.6" fill="#2b2b2b" stroke="#2b2b2b" stroke-width="0.08" text-anchor="middle" textLength="4.4" lengthAdjust="spacingAndGlyphs" >8</text>
<line x1="298.55" y1="295.6" x2="298.55" y2="298.2" stroke="#3a3a3a" stroke-width="1.1"/>
<text x="298.55" y="309" font-size="8.6" fill="#2b2b2b" stroke="#2b2b2b" stroke-width="0.08" text-anchor="middle" textLength="8.8" lengthAdjust="spacingAndGlyphs" >10</text>
<line x1="313.70000000000005" y1="295.6" x2="313.70000000000005" y2="298.2" stroke="#3a3a3a" stroke-width="1.1"/>
<text x="313.70000000000005" y="309" font-size="8.6" fill="#2b2b2b" stroke="#2b2b2b" stroke-width="0.08" text-anchor="middle" textLength="8.8" lengthAdjust="spacingAndGlyphs" >12</text>
<line x1="328.85" y1="295.6" x2="328.85" y2="298.2" stroke="#3a3a3a" stroke-width="1.1"/>
<text x="328.85" y="309" font-size="8.6" fill="#2b2b2b" stroke="#2b2b2b" stroke-width="0.08" text-anchor="middle" textLength="8.8" lengthAdjust="spacingAndGlyphs" >14</text>
<text x="250.1" y="322.8" font-size="9.8" fill="#2b2b2b" stroke="#2b2b2b" stroke-width="0.25" textLength="55.7" lengthAdjust="spacingAndGlyphs" >Weeks after SCT</text>
<text transform="translate(196.7,259.5) rotate(-90)" x="0" y="0" font-size="10" fill="#2b2b2b" stroke="#2b2b2b" stroke-width="0.08" text-anchor="middle" textLength="41" lengthAdjust="spacingAndGlyphs">Survival (%)</text>
<path d="M223,223.5 H251.5 V238 H255.4 V266 H257.8 V285 H259.2 V295.6" fill="none" stroke="#f2c14e" stroke-width="1.1"/>
<path d="M223,223.5 H254.9 V252 H258.4 V295.6" fill="none" stroke="#2f62a8" stroke-width="1.1"/>
<path d="M223,223.5 H248.8 V238 H254.3 V252 H257.6 V281.4 H259.7 V295.6" fill="none" stroke="#58626e" stroke-width="1.1"/>
<path d="M223,223.5 H267.3 V231.3 H276.2 V239.3 H288.7 V247.5 H331.5" fill="none" stroke="#c8304a" stroke-width="1.1"/>
<line x1="268" y1="245.6" x2="268" y2="269.7" stroke="#555" stroke-width="1.2"/>
<circle cx="272" cy="253.6" r="1.0" fill="#333"/>
<circle cx="272" cy="257.7" r="1.0" fill="#333"/>
<circle cx="272" cy="261.8" r="1.0" fill="#333"/>
<text x="290.6" y="245.6" font-size="8.4" fill="#c8304a" stroke="#c8304a" stroke-width="0.08" textLength="14.4" lengthAdjust="spacingAndGlyphs" >CSP</text>
<line x1="307.5" y1="242.7" x2="314.5" y2="242.7" stroke="#c8304a" stroke-width="0.9"/>
<polygon points="316.9,242.7 313.9,241.2 313.9,244.2" fill="#c8304a"/>
<text x="318.1" y="245.6" font-size="8.4" fill="#c8304a" stroke="#c8304a" stroke-width="0.08" textLength="27.2" lengthAdjust="spacingAndGlyphs" >αPD-L1</text>
<text x="271" y="274.6" font-size="8.4" fill="#f2c450" stroke="#f2c450" stroke-width="0.08" textLength="15.3" lengthAdjust="spacingAndGlyphs" >CSP</text>
<line x1="288.1" y1="271.70000000000005" x2="294.70000000000005" y2="271.70000000000005" stroke="#f2c450" stroke-width="0.9"/>
<polygon points="297.1,271.70000000000005 294.1,270.20000000000005 294.1,273.20000000000005" fill="#f2c450"/>
<text x="297.8" y="274.6" font-size="8.4" fill="#f2c450" stroke="#f2c450" stroke-width="0.08" textLength="14.2" lengthAdjust="spacingAndGlyphs" >PBS</text>
<text x="270.5" y="282.9" font-size="8.4" fill="#2f5fa0" stroke="#2f5fa0" stroke-width="0.08" textLength="27.3" lengthAdjust="spacingAndGlyphs" >Vehicle</text>
<line x1="299.2" y1="280.0" x2="306.5" y2="280.0" stroke="#2f5fa0" stroke-width="0.9"/>
<polygon points="308.9,280.0 305.9,278.5 305.9,281.5" fill="#2f5fa0"/>
<text x="309.6" y="282.9" font-size="8.4" fill="#2f5fa0" stroke="#2f5fa0" stroke-width="0.08" textLength="27.0" lengthAdjust="spacingAndGlyphs" >αPD-L1</text>
<text x="270.5" y="290.9" font-size="8.4" fill="#5c6472" stroke="#5c6472" stroke-width="0.08" textLength="27.3" lengthAdjust="spacingAndGlyphs" >Vehicle</text>
<line x1="299.2" y1="288.0" x2="305.8" y2="288.0" stroke="#5c6472" stroke-width="0.9"/>
<polygon points="308.2,288.0 305.2,286.5 305.2,289.5" fill="#5c6472"/>
<text x="309.6" y="290.9" font-size="8.4" fill="#5c6472" stroke="#5c6472" stroke-width="0.08" textLength="14.5" lengthAdjust="spacingAndGlyphs" >PBS</text>
<text x="327.3" y="224.4" font-size="8.2" fill="#2b2b2b" stroke="#2b2b2b" stroke-width="0.08" textLength="52.9" lengthAdjust="spacingAndGlyphs" >Luminescence</text>
<text x="357" y="234.6" font-size="8.2" fill="#2b2b2b" stroke="#2b2b2b" stroke-width="0.08" textLength="23.2" lengthAdjust="spacingAndGlyphs" >(×10<tspan font-size="5.5" dy="-2.8">5</tspan><tspan dy="2.8">)</tspan></text>
<defs><linearGradient id="cb" x1="0" y1="0" x2="0" y2="1"><stop offset="0" stop-color="#dc2020"/><stop offset="0.1" stop-color="#e25a22"/><stop offset="0.18" stop-color="#e89a2c"/><stop offset="0.24" stop-color="#e0cc38"/><stop offset="0.3" stop-color="#a8c83a"/><stop offset="0.42" stop-color="#5cae42"/><stop offset="0.55" stop-color="#4aa85a"/><stop offset="0.66" stop-color="#48aca8"/><stop offset="0.76" stop-color="#3090d0"/><stop offset="0.88" stop-color="#2860b0"/><stop offset="1" stop-color="#2a3890"/></linearGradient></defs>
<rect x="370" y="243.2" width="3" height="133.8" fill="url(#cb)"/>
<line x1="373" y1="243.2" x2="376.2" y2="243.2" stroke="#333" stroke-width="0.9"/>
<line x1="373" y1="249.14999999999998" x2="374.9" y2="249.14999999999998" stroke="#333" stroke-width="0.9"/>
<line x1="373" y1="255.09999999999997" x2="374.9" y2="255.09999999999997" stroke="#333" stroke-width="0.9"/>
<line x1="373" y1="261.04999999999995" x2="374.9" y2="261.04999999999995" stroke="#333" stroke-width="0.9"/>
<line x1="373" y1="266.99999999999994" x2="374.9" y2="266.99999999999994" stroke="#333" stroke-width="0.9"/>
<line x1="373" y1="272.94999999999993" x2="376.2" y2="272.94999999999993" stroke="#333" stroke-width="0.9"/>
<line x1="373" y1="278.8999999999999" x2="374.9" y2="278.8999999999999" stroke="#333" stroke-width="0.9"/>
<line x1="373" y1="284.8499999999999" x2="374.9" y2="284.8499999999999" stroke="#333" stroke-width="0.9"/>
<line x1="373" y1="290.7999999999999" x2="374.9" y2="290.7999999999999" stroke="#333" stroke-width="0.9"/>
<line x1="373" y1="296.7499999999999" x2="374.9" y2="296.7499999999999" stroke="#333" stroke-width="0.9"/>
<line x1="373" y1="302.6999999999999" x2="376.2" y2="302.6999999999999" stroke="#333" stroke-width="0.9"/>
<line x1="373" y1="308.64999999999986" x2="374.9" y2="308.64999999999986" stroke="#333" stroke-width="0.9"/>
<line x1="373" y1="314.59999999999985" x2="374.9" y2="314.59999999999985" stroke="#333" stroke-width="0.9"/>
<line x1="373" y1="320.54999999999984" x2="374.9" y2="320.54999999999984" stroke="#333" stroke-width="0.9"/>
<line x1="373" y1="326.49999999999983" x2="374.9" y2="326.49999999999983" stroke="#333" stroke-width="0.9"/>
<line x1="373" y1="332.4499999999998" x2="376.2" y2="332.4499999999998" stroke="#333" stroke-width="0.9"/>
<line x1="373" y1="338.3999999999998" x2="374.9" y2="338.3999999999998" stroke="#333" stroke-width="0.9"/>
<line x1="373" y1="344.3499999999998" x2="374.9" y2="344.3499999999998" stroke="#333" stroke-width="0.9"/>
<line x1="373" y1="350.2999999999998" x2="374.9" y2="350.2999999999998" stroke="#333" stroke-width="0.9"/>
<line x1="373" y1="356.2499999999998" x2="374.9" y2="356.2499999999998" stroke="#333" stroke-width="0.9"/>
<line x1="373" y1="362.19999999999976" x2="376.2" y2="362.19999999999976" stroke="#333" stroke-width="0.9"/>
<line x1="373" y1="368.14999999999975" x2="374.9" y2="368.14999999999975" stroke="#333" stroke-width="0.9"/>
<line x1="373" y1="374.09999999999974" x2="374.9" y2="374.09999999999974" stroke="#333" stroke-width="0.9"/>
<text x="378.8" y="246.7" font-size="8.6" fill="#2b2b2b" stroke="#2b2b2b" stroke-width="0.08" textLength="11.4" lengthAdjust="spacingAndGlyphs" >1.0</text>
<text x="378.8" y="278.40000000000003" font-size="8.6" fill="#2b2b2b" stroke="#2b2b2b" stroke-width="0.08" textLength="11.4" lengthAdjust="spacingAndGlyphs" >0.8</text>
<text x="378.8" y="313.20000000000005" font-size="8.6" fill="#2b2b2b" stroke="#2b2b2b" stroke-width="0.08" textLength="11.4" lengthAdjust="spacingAndGlyphs" >0.6</text>
<text x="378.8" y="344.3" font-size="8.6" fill="#2b2b2b" stroke="#2b2b2b" stroke-width="0.08" textLength="11.4" lengthAdjust="spacingAndGlyphs" >0.4</text>
<text x="378.8" y="377.6" font-size="8.6" fill="#2b2b2b" stroke="#2b2b2b" stroke-width="0.08" textLength="11.4" lengthAdjust="spacingAndGlyphs" >0.2</text>
<rect x="309.2" y="326.8" width="56.6" height="30.8" fill="none" stroke="#333" stroke-width="1.3"/>
<text x="316.2" y="335" font-size="8.3" fill="#2b2b2b" stroke="#2b2b2b" stroke-width="0.08" textLength="42.6" lengthAdjust="spacingAndGlyphs" >Color Scale</text>
<text x="312.3" y="344.5" font-size="8.3" fill="#2b2b2b" stroke="#2b2b2b" stroke-width="0.08" textLength="50.7" lengthAdjust="spacingAndGlyphs" >Min = 1.00e4</text>
<text x="311.5" y="354.2" font-size="8.3" fill="#2b2b2b" stroke="#2b2b2b" stroke-width="0.08" textLength="51.5" lengthAdjust="spacingAndGlyphs" >Max = 1.00e5</text>
<text x="320.8" y="366" font-size="8.3" fill="#2b2b2b" stroke="#2b2b2b" stroke-width="0.08" textLength="33" lengthAdjust="spacingAndGlyphs" >Radiance</text>
<text x="311.5" y="375.8" font-size="8.3" fill="#2b2b2b" stroke="#2b2b2b" stroke-width="0.08" textLength="51.5" lengthAdjust="spacingAndGlyphs" >(p/sec/cm<tspan font-size="5.5" dy="-2.8">2</tspan><tspan dy="2.8">/sr)</tspan></text>
<text x="394.2" y="198.6" font-size="10.3" fill="#111" stroke="#111" stroke-width="0.08" font-weight="bold" textLength="8.2" lengthAdjust="spacingAndGlyphs" >D</text>
<path d="M429,222.8 L429,222.80 L431.5,222.30 L432.8,219.80 L433.6,212.80 L434.2,203.20 L434.8,212.80 L435.6,219.80 L437,222.30 L439,222.80 L439,222.8 Z" fill="#a9b4c8" stroke="none"/>
<path d="M411,222.8 L429,222.8 L429,222.80 L431.5,222.30 L432.8,219.80 L433.6,212.80 L434.2,203.20 L434.8,212.80 L435.6,219.80 L437,222.30 L439,222.80 L510,222.8" fill="none" stroke="#56657e" stroke-width="1.1" stroke-linejoin="round"/>
<text x="478" y="208.8" font-size="8.6" fill="#2b2b2b" stroke="#2b2b2b" stroke-width="0.08" textLength="27.1" lengthAdjust="spacingAndGlyphs" >Isotype</text>
<path d="M430,244.1 L430,244.10 L432,243.30 L433.5,240.10 L434.8,234.10 L436.3,228.80 L437.6,231.10 L439,236.10 L440.5,239.60 L442.5,241.60 L446,242.80 L452,243.40 L460,243.75 L470,244.00 L480,244.10 L480,244.1 Z" fill="#c9a2c9" stroke="none"/>
<path d="M411,244.1 L430,244.1 L430,244.10 L432,243.30 L433.5,240.10 L434.8,234.10 L436.3,228.80 L437.6,231.10 L439,236.10 L440.5,239.60 L442.5,241.60 L446,242.80 L452,243.40 L460,243.75 L470,244.00 L480,244.10 L510,244.1" fill="none" stroke="#7a3d7a" stroke-width="1.1" stroke-linejoin="round"/>
<text x="482.8" y="231.7" font-size="8.6" fill="#2b2b2b" stroke="#2b2b2b" stroke-width="0.08" textLength="18.1" lengthAdjust="spacingAndGlyphs" >P815</text>
<path d="M431,265.9 L431,265.90 L433.5,264.90 L435.5,261.90 L437.5,256.40 L439.5,253.40 L441.5,252.40 L443.5,253.60 L445.5,253.10 L447.5,255.40 L450.5,258.40 L453,257.60 L455.5,258.10 L458,256.60 L460,257.10 L462,255.90 L464,255.40 L465.5,256.70 L467,257.30 L469,258.70 L472,260.90 L475,263.10 L478,264.40 L482,265.30 L486,265.90 L486,265.9 Z" fill="#959bd0" stroke="none"/>
<path d="M411,265.9 L431,265.9 L431,265.90 L433.5,264.90 L435.5,261.90 L437.5,256.40 L439.5,253.40 L441.5,252.40 L443.5,253.60 L445.5,253.10 L447.5,255.40 L450.5,258.40 L453,257.60 L455.5,258.10 L458,256.60 L460,257.10 L462,255.90 L464,255.40 L465.5,256.70 L467,257.30 L469,258.70 L472,260.90 L475,263.10 L478,264.40 L482,265.30 L486,265.90 L510,265.9" fill="none" stroke="#3b4a8c" stroke-width="1.1" stroke-linejoin="round"/>
<text x="474.8" y="253.2" font-size="8.6" fill="#2b2b2b" stroke="#2b2b2b" stroke-width="0.08" textLength="35.2" lengthAdjust="spacingAndGlyphs" >MLL-AF9</text>
<path d="M431,287 L431,287.00 L433.5,286.20 L435.5,283.00 L437.5,276.50 L439.5,273.60 L441.5,273.00 L443.5,274.80 L445.5,274.40 L447.5,275.80 L450,277.00 L452,278.40 L455,279.60 L457,279.00 L459,277.00 L461,276.00 L462.5,275.40 L464,276.90 L466,276.40 L468,277.50 L470,279.00 L473,282.00 L476,284.50 L479,286.00 L482,287.00 L482,287 Z" fill="#7ea88e" stroke="none"/>
<path d="M411,287.0 L431,287 L431,287.00 L433.5,286.20 L435.5,283.00 L437.5,276.50 L439.5,273.60 L441.5,273.00 L443.5,274.80 L445.5,274.40 L447.5,275.80 L450,277.00 L452,278.40 L455,279.60 L457,279.00 L459,277.00 L461,276.00 L462.5,275.40 L464,276.90 L466,276.40 L468,277.50 L470,279.00 L473,282.00 L476,284.50 L479,286.00 L482,287.00 L510,287" fill="none" stroke="#2e6b4a" stroke-width="1.1" stroke-linejoin="round"/>
<text x="482.2" y="275" font-size="8.6" fill="#2b2b2b" stroke="#2b2b2b" stroke-width="0.08" textLength="19.1" lengthAdjust="spacingAndGlyphs" >BaF3</text>
<path d="M434,307.9 L434,307.90 L438,307.40 L441,305.90 L443.5,302.90 L445.5,298.40 L447.5,294.60 L449.5,292.10 L451.2,290.70 L452.8,290.20 L454.5,290.70 L456.5,292.50 L458.5,295.90 L460.5,299.90 L462.5,303.70 L465,306.40 L468.5,307.90 L468.5,307.9 Z" fill="#a9d99b" stroke="none"/>
<path d="M411,307.9 L434,307.9 L434,307.90 L438,307.40 L441,305.90 L443.5,302.90 L445.5,298.40 L447.5,294.60 L449.5,292.10 L451.2,290.70 L452.8,290.20 L454.5,290.70 L456.5,292.50 L458.5,295.90 L460.5,299.90 L462.5,303.70 L465,306.40 L468.5,307.90 L510,307.9" fill="none" stroke="#4a9e48" stroke-width="1.1" stroke-linejoin="round"/>
<text x="480.1" y="296.9" font-size="8.6" fill="#2b2b2b" stroke="#2b2b2b" stroke-width="0.08" textLength="22.6" lengthAdjust="spacingAndGlyphs" >THP-1</text>
<path d="M434,329.1 L434,329.10 L438,328.50 L441,327.10 L443.5,324.60 L446,321.10 L448,318.50 L449.4,317.70 L451,318.90 L453,320.50 L455,321.50 L457,322.00 L459,321.90 L461,322.90 L463,324.60 L466,326.60 L469,328.10 L473,329.10 L473,329.1 Z" fill="#d9e3cd" stroke="none"/>
<path d="M411,329.1 L434,329.1 L434,329.10 L438,328.50 L441,327.10 L443.5,324.60 L446,321.10 L448,318.50 L449.4,317.70 L451,318.90 L453,320.50 L455,321.50 L457,322.00 L459,321.90 L461,322.90 L463,324.60 L466,326.60 L469,328.10 L473,329.10 L510,329.1" fill="none" stroke="#a6ba92" stroke-width="1.1" stroke-linejoin="round"/>
<text x="485" y="318" font-size="8.6" fill="#2b2b2b" stroke="#2b2b2b" stroke-width="0.08" textLength="13" lengthAdjust="spacingAndGlyphs" >EL4</text>
<path d="M438,350.4 L438,350.40 L443,349.60 L446,347.80 L448.5,344.40 L450.5,340.40 L452.5,337.90 L455,336.80 L457,335.40 L459,336.40 L461,335.40 L463,336.20 L465,335.60 L467,336.90 L469,336.60 L471,337.90 L473,337.60 L475,338.90 L477,339.80 L479,341.80 L481,343.40 L483,345.40 L485,347.40 L487,349.00 L490,350.40 L490,350.4 Z" fill="#fcc97a" stroke="none"/>
<path d="M411,350.4 L438,350.4 L438,350.40 L443,349.60 L446,347.80 L448.5,344.40 L450.5,340.40 L452.5,337.90 L455,336.80 L457,335.40 L459,336.40 L461,335.40 L463,336.20 L465,335.60 L467,336.90 L469,336.60 L471,337.90 L473,337.60 L475,338.90 L477,339.80 L479,341.80 L481,343.40 L483,345.40 L485,347.40 L487,349.00 L490,350.40 L510,350.4" fill="none" stroke="#f3a02e" stroke-width="1.1" stroke-linejoin="round"/>
<text x="484.3" y="339.2" font-size="8.6" fill="#2b2b2b" stroke="#2b2b2b" stroke-width="0.08" textLength="14.8" lengthAdjust="spacingAndGlyphs" >A20</text>
<path d="M455,372 L455,372.00 L460,371.20 L463,369.20 L466,366.20 L468,363.70 L470,362.00 L472,359.50 L473.7,357.20 L475.5,359.00 L477,361.50 L479,365.50 L481,369.00 L483,371.00 L486,372.00 L486,372 Z" fill="#e98c8c" stroke="none"/>
<path d="M411,372.0 L455,372 L455,372.00 L460,371.20 L463,369.20 L466,366.20 L468,363.70 L470,362.00 L472,359.50 L473.7,357.20 L475.5,359.00 L477,361.50 L479,365.50 L481,369.00 L483,371.00 L486,372.00 L510,372" fill="none" stroke="#c02a3a" stroke-width="1.1" stroke-linejoin="round"/>
<text x="479" y="361" font-size="8.6" fill="#2b2b2b" stroke="#2b2b2b" stroke-width="0.08" textLength="25" lengthAdjust="spacingAndGlyphs" >C1498</text>
<path d="M410.8,372 V199.2 H510.2 V372" fill="none" stroke="#2e2e2e" stroke-width="1.2"/>
<line x1="410.2" y1="371.8" x2="510.8" y2="371.8" stroke="#1e1e1e" stroke-width="1.3"/>
<line x1="412" y1="371.8" x2="412" y2="373.6" stroke="#333" stroke-width="0.8"/>
<line x1="416" y1="371.8" x2="416" y2="373.6" stroke="#333" stroke-width="0.8"/>
<line x1="416.8" y1="371.8" x2="416.8" y2="373.6" stroke="#333" stroke-width="0.8"/>
<line x1="417.6" y1="371.8" x2="417.6" y2="373.6" stroke="#333" stroke-width="0.8"/>
<line x1="420" y1="371.8" x2="420" y2="373.6" stroke="#333" stroke-width="0.8"/>
<line x1="423" y1="371.8" x2="423" y2="373.6" stroke="#333" stroke-width="0.8"/>
<line x1="426" y1="371.8" x2="426" y2="373.6" stroke="#333" stroke-width="0.8"/>
<line x1="428" y1="371.8" x2="428" y2="373.6" stroke="#333" stroke-width="0.8"/>
<line x1="430" y1="371.8" x2="430" y2="373.6" stroke="#333" stroke-width="0.8"/>
<line x1="431.4" y1="371.8" x2="431.4" y2="373.6" stroke="#333" stroke-width="0.8"/>
<line x1="432.2" y1="371.8" x2="432.2" y2="373.6" stroke="#333" stroke-width="0.8"/>
<line x1="433" y1="371.8" x2="433" y2="373.6" stroke="#333" stroke-width="0.8"/>
<line x1="433.8" y1="371.8" x2="433.8" y2="373.6" stroke="#333" stroke-width="0.8"/>
<line x1="434.6" y1="371.8" x2="434.6" y2="373.6" stroke="#333" stroke-width="0.8"/>
<line x1="435.4" y1="371.8" x2="435.4" y2="373.6" stroke="#333" stroke-width="0.8"/>
<line x1="436.2" y1="371.8" x2="436.2" y2="373.6" stroke="#333" stroke-width="0.8"/>
<line x1="440" y1="371.8" x2="440" y2="373.6" stroke="#333" stroke-width="0.8"/>
<line x1="445" y1="371.8" x2="445" y2="373.6" stroke="#333" stroke-width="0.8"/>
<line x1="448.4" y1="371.8" x2="448.4" y2="373.6" stroke="#333" stroke-width="0.8"/>
<line x1="449.4" y1="371.8" x2="449.4" y2="373.6" stroke="#333" stroke-width="0.8"/>
<line x1="453" y1="371.8" x2="453" y2="373.6" stroke="#333" stroke-width="0.8"/>
<line x1="458" y1="371.8" x2="458" y2="373.6" stroke="#333" stroke-width="0.8"/>
<line x1="461" y1="371.8" x2="461" y2="373.6" stroke="#333" stroke-width="0.8"/>
<line x1="463.5" y1="371.8" x2="463.5" y2="373.6" stroke="#333" stroke-width="0.8"/>
<line x1="465" y1="371.8" x2="465" y2="373.6" stroke="#333" stroke-width="0.8"/>
<line x1="468" y1="371.8" x2="468" y2="373.6" stroke="#333" stroke-width="0.8"/>
<line x1="471" y1="371.8" x2="471" y2="373.6" stroke="#333" stroke-width="0.8"/>
<line x1="474.8" y1="371.8" x2="474.8" y2="373.6" stroke="#333" stroke-width="0.8"/>
<line x1="476" y1="371.8" x2="476" y2="373.6" stroke="#333" stroke-width="0.8"/>
<line x1="477" y1="371.8" x2="477" y2="373.6" stroke="#333" stroke-width="0.8"/>
<line x1="481" y1="371.8" x2="481" y2="373.6" stroke="#333" stroke-width="0.8"/>
<line x1="485" y1="371.8" x2="485" y2="373.6" stroke="#333" stroke-width="0.8"/>
<line x1="488" y1="371.8" x2="488" y2="373.6" stroke="#333" stroke-width="0.8"/>
<line x1="491" y1="371.8" x2="491" y2="373.6" stroke="#333" stroke-width="0.8"/>
<line x1="494" y1="371.8" x2="494" y2="373.6" stroke="#333" stroke-width="0.8"/>
<line x1="498" y1="371.8" x2="498" y2="373.6" stroke="#333" stroke-width="0.8"/>
<line x1="500.5" y1="371.8" x2="500.5" y2="373.6" stroke="#333" stroke-width="0.8"/>
<line x1="501.5" y1="371.8" x2="501.5" y2="373.6" stroke="#333" stroke-width="0.8"/>
<line x1="504" y1="371.8" x2="504" y2="373.6" stroke="#333" stroke-width="0.8"/>
<line x1="507" y1="371.8" x2="507" y2="373.6" stroke="#333" stroke-width="0.8"/>
<line x1="409.7" y1="378.6" x2="506" y2="378.6" stroke="#222" stroke-width="1.0"/>
<polygon points="510,378.6 505,376.6 505,380.6" fill="#222"/>
<text x="449.8" y="388.6" font-size="8.9" fill="#2b2b2b" stroke="#2b2b2b" stroke-width="0.08" textLength="19.7" lengthAdjust="spacingAndGlyphs" >PD-L1</text>
<text x="8.6" y="411.4" font-size="11" fill="#111" stroke="#111" stroke-width="0.08" font-weight="bold" textLength="6.6" lengthAdjust="spacingAndGlyphs" >E</text>
<text x="140.2" y="411.4" font-size="11" fill="#111" stroke="#111" stroke-width="0.08" font-weight="bold" textLength="6.2" lengthAdjust="spacingAndGlyphs" >F</text>
<text x="278.8" y="411.4" font-size="11" fill="#111" stroke="#111" stroke-width="0.08" font-weight="bold" textLength="8.3" lengthAdjust="spacingAndGlyphs" >G</text>
<text x="397" y="411.4" font-size="11" fill="#111" stroke="#111" stroke-width="0.08" font-weight="bold" textLength="8.2" lengthAdjust="spacingAndGlyphs" >H</text>
<text x="10" y="558.9" font-size="11" fill="#111" stroke="#111" stroke-width="0.08" font-weight="bold" textLength="2.6" lengthAdjust="spacingAndGlyphs" >I</text>
<text x="141.3" y="558.9" font-size="11" fill="#111" stroke="#111" stroke-width="0.08" font-weight="bold" textLength="5.8" lengthAdjust="spacingAndGlyphs" >J</text>
<text x="278.8" y="559.5" font-size="11" fill="#111" stroke="#111" stroke-width="0.08" font-weight="bold" textLength="8.2" lengthAdjust="spacingAndGlyphs" >K</text>
<text x="397" y="559.5" font-size="11" fill="#111" stroke="#111" stroke-width="0.08" font-weight="bold" textLength="6.2" lengthAdjust="spacingAndGlyphs" >L</text>
<line x1="63.5" y1="424.6" x2="63.5" y2="516.9499999999999" stroke="#444" stroke-width="1.15"/>
<line x1="62.95" y1="516.4" x2="134.2" y2="516.4" stroke="#444" stroke-width="1.15"/>
<line x1="60.3" y1="516.4" x2="63.5" y2="516.4" stroke="#444" stroke-width="1.1"/>
<text x="56.6" y="519.15" font-size="9.0" fill="#2b2b2b" stroke="#2b2b2b" stroke-width="0.08" text-anchor="end" textLength="4.5" lengthAdjust="spacingAndGlyphs" >0</text>
<line x1="60.3" y1="498.87199999999996" x2="63.5" y2="498.87199999999996" stroke="#444" stroke-width="1.1"/>
<text x="56.6" y="501.62" font-size="9.0" fill="#2b2b2b" stroke="#2b2b2b" stroke-width="0.08" text-anchor="end" textLength="8.9" lengthAdjust="spacingAndGlyphs" >20</text>
<line x1="60.3" y1="481.344" x2="63.5" y2="481.344" stroke="#444" stroke-width="1.1"/>
<text x="56.6" y="484.09" font-size="9.0" fill="#2b2b2b" stroke="#2b2b2b" stroke-width="0.08" text-anchor="end" textLength="8.9" lengthAdjust="spacingAndGlyphs" >40</text>
<line x1="60.3" y1="463.816" x2="63.5" y2="463.816" stroke="#444" stroke-width="1.1"/>
<text x="56.6" y="466.57" font-size="9.0" fill="#2b2b2b" stroke="#2b2b2b" stroke-width="0.08" text-anchor="end" textLength="8.9" lengthAdjust="spacingAndGlyphs" >60</text>
<line x1="60.3" y1="446.288" x2="63.5" y2="446.288" stroke="#444" stroke-width="1.1"/>
<text x="56.6" y="449.04" font-size="9.0" fill="#2b2b2b" stroke="#2b2b2b" stroke-width="0.08" text-anchor="end" textLength="8.9" lengthAdjust="spacingAndGlyphs" >80</text>
<line x1="60.3" y1="428.76" x2="63.5" y2="428.76" stroke="#444" stroke-width="1.1"/>
<text x="56.6" y="431.51" font-size="9.0" fill="#2b2b2b" stroke="#2b2b2b" stroke-width="0.08" text-anchor="end" textLength="13.2" lengthAdjust="spacingAndGlyphs" >100</text>
<rect x="73.5" y="474.4" width="20.10" height="42.00" fill="#8d86c3"/>
<line x1="83.55" y1="516.4" x2="83.55" y2="519.4" stroke="#333" stroke-width="1.1"/>
<line x1="83.55" y1="468.75" x2="83.55" y2="474.4" stroke="#7f78b6" stroke-width="1.0"/>
<line x1="78.95" y1="468.75" x2="88.14999999999999" y2="468.75" stroke="#7f78b6" stroke-width="1.0"/>
<circle cx="80" cy="468.1" r="1.6" fill="#111"/>
<circle cx="80" cy="472.25" r="1.6" fill="#111"/>
<circle cx="87.25" cy="471.5" r="1.6" fill="#111"/>
<circle cx="83.5" cy="476.9" r="1.6" fill="#111"/>
<circle cx="83.5" cy="482.75" r="1.6" fill="#111"/>
<rect x="104.1" y="471.6" width="19.80" height="44.80" fill="#e3147b"/>
<line x1="114.0" y1="516.4" x2="114.0" y2="519.4" stroke="#333" stroke-width="1.1"/>
<line x1="114.0" y1="468.5" x2="114.0" y2="471.6" stroke="#d42c78" stroke-width="1.0"/>
<line x1="109.4" y1="468.5" x2="118.6" y2="468.5" stroke="#d42c78" stroke-width="1.0"/>
<rect x="103.65" y="468.65" width="3.2" height="3.2" fill="#111"/>
<rect x="103.65" y="474.90" width="3.2" height="3.2" fill="#111"/>
<rect x="112.40" y="469.65" width="3.2" height="3.2" fill="#111"/>
<rect x="120.65" y="465.65" width="3.2" height="3.2" fill="#111"/>
<rect x="120.65" y="471.90" width="3.2" height="3.2" fill="#111"/>
<line x1="83.5" y1="462.75" x2="113.8" y2="462.75" stroke="#4a4a4a" stroke-width="1.2"/>
<text x="98.8" y="460.6" font-size="8.4" fill="#2b2b2b" stroke="#2b2b2b" stroke-width="0.08" text-anchor="middle" textLength="7.5" lengthAdjust="spacingAndGlyphs" >ns</text>
<text x="74.5" y="529.9" font-size="8.4" fill="#2b2b2b" stroke="#2b2b2b" stroke-width="0.08" textLength="18.5" lengthAdjust="spacingAndGlyphs" >P815</text>
<text x="101.5" y="529.9" font-size="8.4" fill="#2b2b2b" stroke="#2b2b2b" stroke-width="0.08" textLength="24.5" lengthAdjust="spacingAndGlyphs" >C1498</text>
<text transform="translate(37.3,468.9) rotate(-90)" x="0" y="0" font-size="9.6" fill="#2b2b2b" stroke="#2b2b2b" stroke-width="0.08" text-anchor="middle" textLength="70.2" lengthAdjust="spacingAndGlyphs"><tspan dy="0.00">PD1</tspan><tspan dy="-3.65" font-size="5.95">+</tspan><tspan dy="3.65">TIGIT</tspan><tspan dy="-3.65" font-size="5.95">-</tspan><tspan dy="3.65">/CD8</tspan><tspan dy="-3.65" font-size="5.95">+</tspan><tspan dy="3.65"> (%)</tspan></text>
<line x1="183.4" y1="428.8" x2="183.4" y2="516.9499999999999" stroke="#444" stroke-width="1.15"/>
<line x1="182.85" y1="516.4" x2="250.5" y2="516.4" stroke="#444" stroke-width="1.15"/>
<line x1="180.20000000000002" y1="516.4" x2="183.4" y2="516.4" stroke="#444" stroke-width="1.1"/>
<text x="176.7" y="519.15" font-size="9.0" fill="#2b2b2b" stroke="#2b2b2b" stroke-width="0.08" text-anchor="end" textLength="4.5" lengthAdjust="spacingAndGlyphs" >0</text>
<line x1="180.20000000000002" y1="481.4" x2="183.4" y2="481.4" stroke="#444" stroke-width="1.1"/>
<text x="176.7" y="484.15" font-size="9.0" fill="#2b2b2b" stroke="#2b2b2b" stroke-width="0.08" text-anchor="end" textLength="8.9" lengthAdjust="spacingAndGlyphs" >10</text>
<line x1="180.20000000000002" y1="446.4" x2="183.4" y2="446.4" stroke="#444" stroke-width="1.1"/>
<text x="176.7" y="449.15" font-size="9.0" fill="#2b2b2b" stroke="#2b2b2b" stroke-width="0.08" text-anchor="end" textLength="8.9" lengthAdjust="spacingAndGlyphs" >20</text>
<rect x="193.4" y="470.9" width="20.20" height="45.50" fill="#8d86c3"/>
<line x1="203.5" y1="516.4" x2="203.5" y2="519.4" stroke="#333" stroke-width="1.1"/>
<line x1="203.5" y1="454.6" x2="203.5" y2="470.9" stroke="#7f78b6" stroke-width="1.0"/>
<line x1="198.9" y1="454.6" x2="208.1" y2="454.6" stroke="#7f78b6" stroke-width="1.0"/>
<circle cx="203.5" cy="449.6" r="1.6" fill="#111"/>
<circle cx="203.5" cy="463.1" r="1.6" fill="#111"/>
<circle cx="203.5" cy="468.2" r="1.6" fill="#111"/>
<circle cx="203.5" cy="482.1" r="1.6" fill="#111"/>
<circle cx="203.5" cy="491.3" r="1.6" fill="#111"/>
<rect x="223.7" y="472.0" width="19.90" height="44.40" fill="#e3147b"/>
<line x1="233.64999999999998" y1="516.4" x2="233.64999999999998" y2="519.4" stroke="#333" stroke-width="1.1"/>
<line x1="233.64999999999998" y1="462.6" x2="233.64999999999998" y2="472.0" stroke="#d42c78" stroke-width="1.0"/>
<line x1="229.04999999999998" y1="462.6" x2="238.24999999999997" y2="462.6" stroke="#d42c78" stroke-width="1.0"/>
<rect x="232.10" y="456.20" width="3.2" height="3.2" fill="#111"/>
<rect x="228.50" y="468.70" width="3.2" height="3.2" fill="#111"/>
<rect x="235.70" y="468.70" width="3.2" height="3.2" fill="#111"/>
<rect x="232.00" y="475.90" width="3.2" height="3.2" fill="#111"/>
<rect x="232.00" y="481.60" width="3.2" height="3.2" fill="#111"/>
<line x1="203.25" y1="443.75" x2="233.75" y2="443.75" stroke="#4a4a4a" stroke-width="1.2"/>
<text x="218.5" y="440.9" font-size="8.4" fill="#2b2b2b" stroke="#2b2b2b" stroke-width="0.08" text-anchor="middle" textLength="7.5" lengthAdjust="spacingAndGlyphs" >ns</text>
<text x="193.75" y="530" font-size="8.4" fill="#2b2b2b" stroke="#2b2b2b" stroke-width="0.08" textLength="20.0" lengthAdjust="spacingAndGlyphs" >P815</text>
<text x="222" y="530" font-size="8.4" fill="#2b2b2b" stroke="#2b2b2b" stroke-width="0.08" textLength="24.2" lengthAdjust="spacingAndGlyphs" >C1498</text>
<text transform="translate(151.2,473.6) rotate(-90)" x="0" y="0" font-size="9.2" fill="#2b2b2b" stroke="#2b2b2b" stroke-width="0.08" text-anchor="middle" textLength="58.6" lengthAdjust="spacingAndGlyphs"><tspan dy="0.00">No. of PD1</tspan><tspan dy="-3.50" font-size="5.70">+</tspan><tspan dy="3.50">TIGIT</tspan><tspan dy="-3.50" font-size="5.70">-</tspan></text>
<text transform="translate(159.9,473.5) rotate(-90)" x="0" y="0" font-size="9.2" fill="#2b2b2b" stroke="#2b2b2b" stroke-width="0.08" text-anchor="middle" textLength="67" lengthAdjust="spacingAndGlyphs"><tspan dy="0.00">CD8</tspan><tspan dy="-3.50" font-size="5.70">+</tspan><tspan dy="3.50"> T cells (×10</tspan><tspan dy="-3.50" font-size="5.70">3</tspan><tspan dy="3.50">)</tspan></text>
<line x1="315.4" y1="421.5" x2="315.4" y2="517.05" stroke="#444" stroke-width="1.15"/>
<line x1="314.84999999999997" y1="516.5" x2="385" y2="516.5" stroke="#444" stroke-width="1.15"/>
<line x1="312.2" y1="516.5" x2="315.4" y2="516.5" stroke="#444" stroke-width="1.1"/>
<text x="309.1" y="519.25" font-size="9.0" fill="#2b2b2b" stroke="#2b2b2b" stroke-width="0.08" text-anchor="end" textLength="4.5" lengthAdjust="spacingAndGlyphs" >0</text>
<line x1="312.2" y1="498.2" x2="315.4" y2="498.2" stroke="#444" stroke-width="1.1"/>
<text x="309.1" y="500.95" font-size="9.0" fill="#2b2b2b" stroke="#2b2b2b" stroke-width="0.08" text-anchor="end" textLength="8.9" lengthAdjust="spacingAndGlyphs" >20</text>
<line x1="312.2" y1="479.9" x2="315.4" y2="479.9" stroke="#444" stroke-width="1.1"/>
<text x="309.1" y="482.65" font-size="9.0" fill="#2b2b2b" stroke="#2b2b2b" stroke-width="0.08" text-anchor="end" textLength="8.9" lengthAdjust="spacingAndGlyphs" >40</text>
<line x1="312.2" y1="461.6" x2="315.4" y2="461.6" stroke="#444" stroke-width="1.1"/>
<text x="309.1" y="464.35" font-size="9.0" fill="#2b2b2b" stroke="#2b2b2b" stroke-width="0.08" text-anchor="end" textLength="8.9" lengthAdjust="spacingAndGlyphs" >60</text>
<line x1="312.2" y1="443.3" x2="315.4" y2="443.3" stroke="#444" stroke-width="1.1"/>
<text x="309.1" y="446.05" font-size="9.0" fill="#2b2b2b" stroke="#2b2b2b" stroke-width="0.08" text-anchor="end" textLength="8.9" lengthAdjust="spacingAndGlyphs" >80</text>
<line x1="312.2" y1="425.0" x2="315.4" y2="425.0" stroke="#444" stroke-width="1.1"/>
<text x="309.1" y="427.75" font-size="9.0" fill="#2b2b2b" stroke="#2b2b2b" stroke-width="0.08" text-anchor="end" textLength="13.2" lengthAdjust="spacingAndGlyphs" >100</text>
<rect x="326.2" y="470.5" width="20.70" height="46.00" fill="#8d86c3"/>
<line x1="336.54999999999995" y1="516.5" x2="336.54999999999995" y2="519.5" stroke="#333" stroke-width="1.1"/>
<line x1="336.54999999999995" y1="464.3" x2="336.54999999999995" y2="470.5" stroke="#7f78b6" stroke-width="1.0"/>
<line x1="331.94999999999993" y1="464.3" x2="341.15" y2="464.3" stroke="#7f78b6" stroke-width="1.0"/>
<circle cx="336.5" cy="463.1" r="1.6" fill="#111"/>
<circle cx="332.8" cy="468.9" r="1.6" fill="#111"/>
<circle cx="340.5" cy="468.2" r="1.6" fill="#111"/>
<circle cx="340.5" cy="474.6" r="1.6" fill="#111"/>
<circle cx="332.8" cy="477.7" r="1.6" fill="#111"/>
<rect x="357.7" y="471.5" width="20.80" height="45.00" fill="#e3147b"/>
<line x1="368.1" y1="516.5" x2="368.1" y2="519.5" stroke="#333" stroke-width="1.1"/>
<line x1="368.1" y1="467.4" x2="368.1" y2="471.5" stroke="#d42c78" stroke-width="1.0"/>
<line x1="363.5" y1="467.4" x2="372.70000000000005" y2="467.4" stroke="#d42c78" stroke-width="1.0"/>
<rect x="366.60" y="463.00" width="3.2" height="3.2" fill="#111"/>
<rect x="357.90" y="468.40" width="3.2" height="3.2" fill="#111"/>
<rect x="357.90" y="473.00" width="3.2" height="3.2" fill="#111"/>
<rect x="366.60" y="470.70" width="3.2" height="3.2" fill="#111"/>
<rect x="375.30" y="471.90" width="3.2" height="3.2" fill="#111"/>
<line x1="337.2" y1="453.1" x2="368.2" y2="453.1" stroke="#4a4a4a" stroke-width="1.2"/>
<text x="352.6" y="450.9" font-size="8.4" fill="#2b2b2b" stroke="#2b2b2b" stroke-width="0.08" text-anchor="middle" textLength="7.5" lengthAdjust="spacingAndGlyphs" >ns</text>
<text x="327" y="530.25" font-size="8.4" fill="#2b2b2b" stroke="#2b2b2b" stroke-width="0.08" textLength="19.2" lengthAdjust="spacingAndGlyphs" >P815</text>
<text x="355.5" y="530.25" font-size="8.4" fill="#2b2b2b" stroke="#2b2b2b" stroke-width="0.08" textLength="25.0" lengthAdjust="spacingAndGlyphs" >C1498</text>
<text transform="translate(288.7,468.6) rotate(-90)" x="0" y="0" font-size="9.6" fill="#2b2b2b" stroke="#2b2b2b" stroke-width="0.08" text-anchor="middle" textLength="53" lengthAdjust="spacingAndGlyphs"><tspan dy="0.00">Ly6c</tspan><tspan dy="-3.65" font-size="5.95">+</tspan><tspan dy="3.65">/CD8</tspan><tspan dy="-3.65" font-size="5.95">+</tspan><tspan dy="3.65"> (%)</tspan></text>
<line x1="433.3" y1="422.0" x2="433.3" y2="517.05" stroke="#444" stroke-width="1.15"/>
<line x1="432.75" y1="516.5" x2="503" y2="516.5" stroke="#444" stroke-width="1.15"/>
<line x1="430.1" y1="516.5" x2="433.3" y2="516.5" stroke="#444" stroke-width="1.1"/>
<text x="426.9" y="519.25" font-size="9.0" fill="#2b2b2b" stroke="#2b2b2b" stroke-width="0.08" text-anchor="end" textLength="4.5" lengthAdjust="spacingAndGlyphs" >0</text>
<line x1="430.1" y1="493.625" x2="433.3" y2="493.625" stroke="#444" stroke-width="1.1"/>
<text x="426.9" y="496.38" font-size="9.0" fill="#2b2b2b" stroke="#2b2b2b" stroke-width="0.08" text-anchor="end" textLength="4.5" lengthAdjust="spacingAndGlyphs" >5</text>
<line x1="430.1" y1="470.75" x2="433.3" y2="470.75" stroke="#444" stroke-width="1.1"/>
<text x="426.9" y="473.5" font-size="9.0" fill="#2b2b2b" stroke="#2b2b2b" stroke-width="0.08" text-anchor="end" textLength="8.9" lengthAdjust="spacingAndGlyphs" >10</text>
<line x1="430.1" y1="447.875" x2="433.3" y2="447.875" stroke="#444" stroke-width="1.1"/>
<text x="426.9" y="450.62" font-size="9.0" fill="#2b2b2b" stroke="#2b2b2b" stroke-width="0.08" text-anchor="end" textLength="8.9" lengthAdjust="spacingAndGlyphs" >15</text>
<line x1="430.1" y1="425.0" x2="433.3" y2="425.0" stroke="#444" stroke-width="1.1"/>
<text x="426.9" y="427.75" font-size="9.0" fill="#2b2b2b" stroke="#2b2b2b" stroke-width="0.08" text-anchor="end" textLength="8.9" lengthAdjust="spacingAndGlyphs" >20</text>
<rect x="444.4" y="474.4" width="20.40" height="42.10" fill="#8d86c3"/>
<line x1="454.6" y1="516.5" x2="454.6" y2="519.5" stroke="#333" stroke-width="1.1"/>
<line x1="454.6" y1="465.8" x2="454.6" y2="474.4" stroke="#7f78b6" stroke-width="1.0"/>
<line x1="450.0" y1="465.8" x2="459.20000000000005" y2="465.8" stroke="#7f78b6" stroke-width="1.0"/>
<circle cx="454.4" cy="465.2" r="1.6" fill="#111"/>
<circle cx="450.6" cy="471.3" r="1.6" fill="#111"/>
<circle cx="458.2" cy="469.5" r="1.6" fill="#111"/>
<circle cx="454.4" cy="480.5" r="1.6" fill="#111"/>
<circle cx="454.4" cy="485.6" r="1.6" fill="#111"/>
<rect x="476" y="473.8" width="20.50" height="42.70" fill="#e3147b"/>
<line x1="486.25" y1="516.5" x2="486.25" y2="519.5" stroke="#333" stroke-width="1.1"/>
<line x1="486.25" y1="465.8" x2="486.25" y2="473.8" stroke="#d42c78" stroke-width="1.0"/>
<line x1="481.65" y1="465.8" x2="490.85" y2="465.8" stroke="#d42c78" stroke-width="1.0"/>
<rect x="484.50" y="461.90" width="3.2" height="3.2" fill="#111"/>
<rect x="484.50" y="467.00" width="3.2" height="3.2" fill="#111"/>
<rect x="484.50" y="471.10" width="3.2" height="3.2" fill="#111"/>
<rect x="484.50" y="477.10" width="3.2" height="3.2" fill="#111"/>
<rect x="484.50" y="484.00" width="3.2" height="3.2" fill="#111"/>
<line x1="455" y1="456.5" x2="485.6" y2="456.5" stroke="#4a4a4a" stroke-width="1.2"/>
<text x="470.4" y="454.8" font-size="8.4" fill="#2b2b2b" stroke="#2b2b2b" stroke-width="0.08" text-anchor="middle" textLength="7.5" lengthAdjust="spacingAndGlyphs" >ns</text>
<text x="444.5" y="530.25" font-size="8.4" fill="#2b2b2b" stroke="#2b2b2b" stroke-width="0.08" textLength="20.0" lengthAdjust="spacingAndGlyphs" >P815</text>
<text x="473.75" y="530.25" font-size="8.4" fill="#2b2b2b" stroke="#2b2b2b" stroke-width="0.08" textLength="25.0" lengthAdjust="spacingAndGlyphs" >C1498</text>
<text transform="translate(413.2,468.2) rotate(-90)" x="0" y="0" font-size="9.6" fill="#2b2b2b" stroke="#2b2b2b" stroke-width="0.08" text-anchor="middle" textLength="89.3" lengthAdjust="spacingAndGlyphs"><tspan dy="0.00">No. of Ly6c</tspan><tspan dy="-3.65" font-size="5.95">+</tspan><tspan dy="3.65">CD8</tspan><tspan dy="-3.65" font-size="5.95">+</tspan><tspan dy="3.65"> (×10</tspan><tspan dy="-3.65" font-size="5.95">3</tspan><tspan dy="3.65">)</tspan></text>
<text x="97.3" y="573.8" font-size="8.0" fill="#2b2b2b" stroke="#2b2b2b" stroke-width="0.08" textLength="88" lengthAdjust="spacingAndGlyphs" >B6 into B6D2F1 + P815</text>
<text x="347" y="573.75" font-size="7.9" fill="#2b2b2b" stroke="#2b2b2b" stroke-width="0.08" textLength="89.2" lengthAdjust="spacingAndGlyphs" >BALBc into B6 + C1498</text>
<line x1="63.4" y1="582.5" x2="63.4" y2="675.25" stroke="#444" stroke-width="1.15"/>
<line x1="62.85" y1="674.7" x2="134" y2="674.7" stroke="#444" stroke-width="1.15"/>
<line x1="60.199999999999996" y1="674.7" x2="63.4" y2="674.7" stroke="#444" stroke-width="1.1"/>
<text x="57.4" y="677.45" font-size="9.0" fill="#2b2b2b" stroke="#2b2b2b" stroke-width="0.08" text-anchor="end" textLength="4.5" lengthAdjust="spacingAndGlyphs" >0</text>
<line x1="60.199999999999996" y1="656.84" x2="63.4" y2="656.84" stroke="#444" stroke-width="1.1"/>
<text x="57.4" y="659.59" font-size="9.0" fill="#2b2b2b" stroke="#2b2b2b" stroke-width="0.08" text-anchor="end" textLength="8.9" lengthAdjust="spacingAndGlyphs" >20</text>
<line x1="60.199999999999996" y1="638.98" x2="63.4" y2="638.98" stroke="#444" stroke-width="1.1"/>
<text x="57.4" y="641.73" font-size="9.0" fill="#2b2b2b" stroke="#2b2b2b" stroke-width="0.08" text-anchor="end" textLength="8.9" lengthAdjust="spacingAndGlyphs" >40</text>
<line x1="60.199999999999996" y1="621.12" x2="63.4" y2="621.12" stroke="#444" stroke-width="1.1"/>
<text x="57.4" y="623.87" font-size="9.0" fill="#2b2b2b" stroke="#2b2b2b" stroke-width="0.08" text-anchor="end" textLength="8.9" lengthAdjust="spacingAndGlyphs" >60</text>
<line x1="60.199999999999996" y1="603.26" x2="63.4" y2="603.26" stroke="#444" stroke-width="1.1"/>
<text x="57.4" y="606.01" font-size="9.0" fill="#2b2b2b" stroke="#2b2b2b" stroke-width="0.08" text-anchor="end" textLength="8.9" lengthAdjust="spacingAndGlyphs" >80</text>
<line x1="60.199999999999996" y1="585.4000000000001" x2="63.4" y2="585.4000000000001" stroke="#444" stroke-width="1.1"/>
<text x="57.4" y="588.15" font-size="9.0" fill="#2b2b2b" stroke="#2b2b2b" stroke-width="0.08" text-anchor="end" textLength="13.2" lengthAdjust="spacingAndGlyphs" >100</text>
<rect x="74.1" y="636" width="19.50" height="38.70" fill="#3dab38"/>
<line x1="83.85" y1="674.7" x2="83.85" y2="677.7" stroke="#333" stroke-width="1.1"/>
<line x1="83.85" y1="628" x2="83.85" y2="636" stroke="#6a9a68" stroke-width="1.0"/>
<line x1="79.25" y1="628" x2="88.44999999999999" y2="628" stroke="#6a9a68" stroke-width="1.0"/>
<circle cx="84" cy="625.7" r="1.6" fill="#111"/>
<circle cx="80.2" cy="634.7" r="1.6" fill="#111"/>
<circle cx="87.6" cy="632" r="1.6" fill="#111"/>
<circle cx="80.2" cy="643.5" r="1.6" fill="#111"/>
<circle cx="87.6" cy="641.4" r="1.6" fill="#111"/>
<rect x="104.4" y="620.3" width="20.60" height="54.40" fill="#1b4f8d"/>
<line x1="114.7" y1="674.7" x2="114.7" y2="677.7" stroke="#333" stroke-width="1.1"/>
<line x1="114.7" y1="614.5" x2="114.7" y2="620.3" stroke="#15325e" stroke-width="1.0"/>
<line x1="110.10000000000001" y1="614.5" x2="119.3" y2="614.5" stroke="#15325e" stroke-width="1.0"/>
<rect x="104.40" y="615.60" width="3.2" height="3.2" fill="#111"/>
<rect x="112.90" y="614.70" width="3.2" height="3.2" fill="#111"/>
<rect x="121.70" y="616.30" width="3.2" height="3.2" fill="#111"/>
<rect x="112.90" y="618.40" width="3.2" height="3.2" fill="#111"/>
<rect x="112.90" y="628.10" width="3.2" height="3.2" fill="#111"/>
<line x1="84" y1="608.7" x2="114.5" y2="608.7" stroke="#4a4a4a" stroke-width="1.2"/>
<text x="99.3" y="609.0" font-size="8.4" fill="#2b2b2b" stroke="#2b2b2b" stroke-width="0.08" text-anchor="middle" textLength="3.8" lengthAdjust="spacingAndGlyphs" >*</text>
<text x="76.7" y="688.5" font-size="8.4" fill="#3dab38" stroke="#3dab38" stroke-width="0.08" textLength="14.2" lengthAdjust="spacingAndGlyphs" >PBS</text>
<text x="101.4" y="688.5" font-size="8.4" fill="#2d5b9c" stroke="#2d5b9c" stroke-width="0.08" textLength="26.5" lengthAdjust="spacingAndGlyphs" >αPD-L1</text>
<text transform="translate(37,628) rotate(-90)" x="0" y="0" font-size="9.6" fill="#2b2b2b" stroke="#2b2b2b" stroke-width="0.08" text-anchor="middle" textLength="56.7" lengthAdjust="spacingAndGlyphs"><tspan dy="0.00">Ki-67</tspan><tspan dy="-3.65" font-size="5.95">+</tspan><tspan dy="3.65">/CD8</tspan><tspan dy="-3.65" font-size="5.95">+</tspan><tspan dy="3.65"> (%)</tspan></text>
<line x1="182.9" y1="580.8" x2="182.9" y2="675.25" stroke="#444" stroke-width="1.15"/>
<line x1="182.35" y1="674.7" x2="252" y2="674.7" stroke="#444" stroke-width="1.15"/>
<line x1="179.70000000000002" y1="674.7" x2="182.9" y2="674.7" stroke="#444" stroke-width="1.1"/>
<text x="176.5" y="677.45" font-size="9.0" fill="#2b2b2b" stroke="#2b2b2b" stroke-width="0.08" text-anchor="end" textLength="4.5" lengthAdjust="spacingAndGlyphs" >0</text>
<line x1="179.70000000000002" y1="656.5" x2="182.9" y2="656.5" stroke="#444" stroke-width="1.1"/>
<text x="176.5" y="659.25" font-size="9.0" fill="#2b2b2b" stroke="#2b2b2b" stroke-width="0.08" text-anchor="end" textLength="8.9" lengthAdjust="spacingAndGlyphs" >20</text>
<line x1="179.70000000000002" y1="638.3000000000001" x2="182.9" y2="638.3000000000001" stroke="#444" stroke-width="1.1"/>
<text x="176.5" y="641.05" font-size="9.0" fill="#2b2b2b" stroke="#2b2b2b" stroke-width="0.08" text-anchor="end" textLength="8.9" lengthAdjust="spacingAndGlyphs" >40</text>
<line x1="179.70000000000002" y1="620.1" x2="182.9" y2="620.1" stroke="#444" stroke-width="1.1"/>
<text x="176.5" y="622.85" font-size="9.0" fill="#2b2b2b" stroke="#2b2b2b" stroke-width="0.08" text-anchor="end" textLength="8.9" lengthAdjust="spacingAndGlyphs" >60</text>
<line x1="179.70000000000002" y1="601.9000000000001" x2="182.9" y2="601.9000000000001" stroke="#444" stroke-width="1.1"/>
<text x="176.5" y="604.65" font-size="9.0" fill="#2b2b2b" stroke="#2b2b2b" stroke-width="0.08" text-anchor="end" textLength="8.9" lengthAdjust="spacingAndGlyphs" >80</text>
<line x1="179.70000000000002" y1="583.7" x2="182.9" y2="583.7" stroke="#444" stroke-width="1.1"/>
<text x="176.5" y="586.45" font-size="9.0" fill="#2b2b2b" stroke="#2b2b2b" stroke-width="0.08" text-anchor="end" textLength="13.2" lengthAdjust="spacingAndGlyphs" >100</text>
<rect x="194" y="643.6" width="20.60" height="31.10" fill="#3dab38"/>
<line x1="204.3" y1="674.7" x2="204.3" y2="677.7" stroke="#333" stroke-width="1.1"/>
<line x1="204.3" y1="639.2" x2="204.3" y2="643.6" stroke="#6a9a68" stroke-width="1.0"/>
<line x1="199.70000000000002" y1="639.2" x2="208.9" y2="639.2" stroke="#6a9a68" stroke-width="1.0"/>
<circle cx="199.8" cy="638.3" r="1.6" fill="#111"/>
<circle cx="208.5" cy="639.8" r="1.6" fill="#111"/>
<circle cx="204.1" cy="645.2" r="1.6" fill="#111"/>
<circle cx="195.5" cy="647.1" r="1.6" fill="#111"/>
<circle cx="212.8" cy="646.4" r="1.6" fill="#111"/>
<rect x="225.2" y="627.7" width="21.10" height="47.00" fill="#1b4f8d"/>
<line x1="235.75" y1="674.7" x2="235.75" y2="677.7" stroke="#333" stroke-width="1.1"/>
<line x1="235.75" y1="617.5" x2="235.75" y2="627.7" stroke="#15325e" stroke-width="1.0"/>
<line x1="231.15" y1="617.5" x2="240.35" y2="617.5" stroke="#15325e" stroke-width="1.0"/>
<rect x="230.20" y="615.50" width="3.2" height="3.2" fill="#111"/>
<rect x="238.00" y="616.60" width="3.2" height="3.2" fill="#111"/>
<rect x="234.00" y="625.90" width="3.2" height="3.2" fill="#111"/>
<rect x="230.50" y="635.90" width="3.2" height="3.2" fill="#111"/>
<rect x="237.80" y="634.70" width="3.2" height="3.2" fill="#111"/>
<line x1="205.2" y1="610.3" x2="236" y2="610.3" stroke="#4a4a4a" stroke-width="1.2"/>
<text x="221.2" y="610.2" font-size="8.4" fill="#2b2b2b" stroke="#2b2b2b" stroke-width="0.08" text-anchor="middle" textLength="7.2" lengthAdjust="spacingAndGlyphs" >**</text>
<text x="197" y="688" font-size="8.4" fill="#3dab38" stroke="#3dab38" stroke-width="0.08" textLength="14.3" lengthAdjust="spacingAndGlyphs" >PBS</text>
<text x="219.8" y="688" font-size="8.4" fill="#2d5b9c" stroke="#2d5b9c" stroke-width="0.08" textLength="29.6" lengthAdjust="spacingAndGlyphs" >αPD-L1</text>
<text transform="translate(157.2,628) rotate(-90)" x="0" y="0" font-size="9.6" fill="#2b2b2b" stroke="#2b2b2b" stroke-width="0.08" text-anchor="middle" textLength="60.7" lengthAdjust="spacingAndGlyphs"><tspan dy="0.00">GZMB</tspan><tspan dy="-3.65" font-size="5.95">+</tspan><tspan dy="3.65">/CD8</tspan><tspan dy="-3.65" font-size="5.95">+</tspan><tspan dy="3.65"> (%)</tspan></text>
<line x1="316.1" y1="582.5" x2="316.1" y2="675.55" stroke="#444" stroke-width="1.15"/>
<line x1="315.55" y1="675" x2="384" y2="675" stroke="#444" stroke-width="1.15"/>
<line x1="312.90000000000003" y1="675.0" x2="316.1" y2="675.0" stroke="#444" stroke-width="1.1"/>
<text x="309.7" y="677.75" font-size="9.0" fill="#2b2b2b" stroke="#2b2b2b" stroke-width="0.08" text-anchor="end" textLength="4.5" lengthAdjust="spacingAndGlyphs" >0</text>
<line x1="312.90000000000003" y1="657.15" x2="316.1" y2="657.15" stroke="#444" stroke-width="1.1"/>
<text x="309.7" y="659.9" font-size="9.0" fill="#2b2b2b" stroke="#2b2b2b" stroke-width="0.08" text-anchor="end" textLength="8.9" lengthAdjust="spacingAndGlyphs" >20</text>
<line x1="312.90000000000003" y1="639.3" x2="316.1" y2="639.3" stroke="#444" stroke-width="1.1"/>
<text x="309.7" y="642.05" font-size="9.0" fill="#2b2b2b" stroke="#2b2b2b" stroke-width="0.08" text-anchor="end" textLength="8.9" lengthAdjust="spacingAndGlyphs" >40</text>
<line x1="312.90000000000003" y1="621.45" x2="316.1" y2="621.45" stroke="#444" stroke-width="1.1"/>
<text x="309.7" y="624.2" font-size="9.0" fill="#2b2b2b" stroke="#2b2b2b" stroke-width="0.08" text-anchor="end" textLength="8.9" lengthAdjust="spacingAndGlyphs" >60</text>
<line x1="312.90000000000003" y1="603.6" x2="316.1" y2="603.6" stroke="#444" stroke-width="1.1"/>
<text x="309.7" y="606.35" font-size="9.0" fill="#2b2b2b" stroke="#2b2b2b" stroke-width="0.08" text-anchor="end" textLength="8.9" lengthAdjust="spacingAndGlyphs" >80</text>
<line x1="312.90000000000003" y1="585.75" x2="316.1" y2="585.75" stroke="#444" stroke-width="1.1"/>
<text x="309.7" y="588.5" font-size="9.0" fill="#2b2b2b" stroke="#2b2b2b" stroke-width="0.08" text-anchor="end" textLength="13.2" lengthAdjust="spacingAndGlyphs" >100</text>
<rect x="326.3" y="645.6" width="20.20" height="29.40" fill="#3dab38"/>
<line x1="336.4" y1="675" x2="336.4" y2="678" stroke="#333" stroke-width="1.1"/>
<line x1="336.4" y1="640.6" x2="336.4" y2="645.6" stroke="#6a9a68" stroke-width="1.0"/>
<line x1="331.79999999999995" y1="640.6" x2="341.0" y2="640.6" stroke="#6a9a68" stroke-width="1.0"/>
<circle cx="336.4" cy="640.1" r="1.6" fill="#111"/>
<circle cx="327.8" cy="643.6" r="1.6" fill="#111"/>
<circle cx="344.8" cy="644.2" r="1.6" fill="#111"/>
<circle cx="336.4" cy="647.3" r="1.6" fill="#111"/>
<circle cx="336.4" cy="652.1" r="1.6" fill="#111"/>
<rect x="357.1" y="631.1" width="20.00" height="43.90" fill="#1b4f8d"/>
<line x1="367.1" y1="675" x2="367.1" y2="678" stroke="#333" stroke-width="1.1"/>
<line x1="367.1" y1="623.6" x2="367.1" y2="631.1" stroke="#15325e" stroke-width="1.0"/>
<line x1="362.5" y1="623.6" x2="371.70000000000005" y2="623.6" stroke="#15325e" stroke-width="1.0"/>
<rect x="365.70" y="618.60" width="3.2" height="3.2" fill="#111"/>
<rect x="369.10" y="626.10" width="3.2" height="3.2" fill="#111"/>
<rect x="362.00" y="628.60" width="3.2" height="3.2" fill="#111"/>
<rect x="362.00" y="637.40" width="3.2" height="3.2" fill="#111"/>
<rect x="369.10" y="636.70" width="3.2" height="3.2" fill="#111"/>
<line x1="335.4" y1="615.2" x2="366" y2="615.2" stroke="#4a4a4a" stroke-width="1.2"/>
<text x="350.2" y="615.6" font-size="8.4" fill="#2b2b2b" stroke="#2b2b2b" stroke-width="0.08" text-anchor="middle" textLength="7.2" lengthAdjust="spacingAndGlyphs" >**</text>
<text x="330.5" y="688.25" font-size="8.4" fill="#3dab38" stroke="#3dab38" stroke-width="0.08" textLength="13.2" lengthAdjust="spacingAndGlyphs" >PBS</text>
<text x="357" y="688.25" font-size="8.4" fill="#2d5b9c" stroke="#2d5b9c" stroke-width="0.08" textLength="23.5" lengthAdjust="spacingAndGlyphs" >αPD-L1</text>
<text transform="translate(289.8,628.7) rotate(-90)" x="0" y="0" font-size="9.6" fill="#2b2b2b" stroke="#2b2b2b" stroke-width="0.08" text-anchor="middle" textLength="56.7" lengthAdjust="spacingAndGlyphs"><tspan dy="0.00">Ki-67</tspan><tspan dy="-3.65" font-size="5.95">+</tspan><tspan dy="3.65">/CD8</tspan><tspan dy="-3.65" font-size="5.95">+</tspan><tspan dy="3.65"> (%)</tspan></text>
<line x1="433.5" y1="582.5" x2="433.5" y2="675.55" stroke="#444" stroke-width="1.15"/>
<line x1="432.95" y1="675" x2="503" y2="675" stroke="#444" stroke-width="1.15"/>
<line x1="430.3" y1="675.0" x2="433.5" y2="675.0" stroke="#444" stroke-width="1.1"/>
<text x="426.9" y="677.75" font-size="9.0" fill="#2b2b2b" stroke="#2b2b2b" stroke-width="0.08" text-anchor="end" textLength="4.5" lengthAdjust="spacingAndGlyphs" >0</text>
<line x1="430.3" y1="657.15" x2="433.5" y2="657.15" stroke="#444" stroke-width="1.1"/>
<text x="426.9" y="659.9" font-size="9.0" fill="#2b2b2b" stroke="#2b2b2b" stroke-width="0.08" text-anchor="end" textLength="8.9" lengthAdjust="spacingAndGlyphs" >20</text>
<line x1="430.3" y1="639.3" x2="433.5" y2="639.3" stroke="#444" stroke-width="1.1"/>
<text x="426.9" y="642.05" font-size="9.0" fill="#2b2b2b" stroke="#2b2b2b" stroke-width="0.08" text-anchor="end" textLength="8.9" lengthAdjust="spacingAndGlyphs" >40</text>
<line x1="430.3" y1="621.45" x2="433.5" y2="621.45" stroke="#444" stroke-width="1.1"/>
<text x="426.9" y="624.2" font-size="9.0" fill="#2b2b2b" stroke="#2b2b2b" stroke-width="0.08" text-anchor="end" textLength="8.9" lengthAdjust="spacingAndGlyphs" >60</text>
<line x1="430.3" y1="603.6" x2="433.5" y2="603.6" stroke="#444" stroke-width="1.1"/>
<text x="426.9" y="606.35" font-size="9.0" fill="#2b2b2b" stroke="#2b2b2b" stroke-width="0.08" text-anchor="end" textLength="8.9" lengthAdjust="spacingAndGlyphs" >80</text>
<line x1="430.3" y1="585.75" x2="433.5" y2="585.75" stroke="#444" stroke-width="1.1"/>
<text x="426.9" y="588.5" font-size="9.0" fill="#2b2b2b" stroke="#2b2b2b" stroke-width="0.08" text-anchor="end" textLength="13.2" lengthAdjust="spacingAndGlyphs" >100</text>
<rect x="444.4" y="640.4" width="19.60" height="34.60" fill="#3dab38"/>
<line x1="454.2" y1="675" x2="454.2" y2="678" stroke="#333" stroke-width="1.1"/>
<line x1="454.2" y1="632.9" x2="454.2" y2="640.4" stroke="#6a9a68" stroke-width="1.0"/>
<line x1="449.59999999999997" y1="632.9" x2="458.8" y2="632.9" stroke="#6a9a68" stroke-width="1.0"/>
<circle cx="450.4" cy="632.5" r="1.6" fill="#111"/>
<circle cx="457.3" cy="634" r="1.6" fill="#111"/>
<circle cx="450.4" cy="641.3" r="1.6" fill="#111"/>
<circle cx="457.3" cy="641.8" r="1.6" fill="#111"/>
<circle cx="453.8" cy="651.7" r="1.6" fill="#111"/>
<rect x="475.2" y="619" width="19.60" height="56.00" fill="#1b4f8d"/>
<line x1="485.0" y1="675" x2="485.0" y2="678" stroke="#333" stroke-width="1.1"/>
<line x1="485.0" y1="612.1" x2="485.0" y2="619" stroke="#15325e" stroke-width="1.0"/>
<line x1="480.4" y1="612.1" x2="489.6" y2="612.1" stroke="#15325e" stroke-width="1.0"/>
<rect x="482.80" y="608.80" width="3.2" height="3.2" fill="#111"/>
<rect x="479.40" y="616.30" width="3.2" height="3.2" fill="#111"/>
<rect x="486.80" y="614.50" width="3.2" height="3.2" fill="#111"/>
<rect x="486.30" y="619.70" width="3.2" height="3.2" fill="#111"/>
<rect x="483.20" y="624.90" width="3.2" height="3.2" fill="#111"/>
<line x1="453.2" y1="604.8" x2="484" y2="604.8" stroke="#4a4a4a" stroke-width="1.2"/>
<text x="468.6" y="604.8" font-size="8.4" fill="#2b2b2b" stroke="#2b2b2b" stroke-width="0.08" text-anchor="middle" textLength="7.2" lengthAdjust="spacingAndGlyphs" >**</text>
<text x="446.25" y="687.5" font-size="8.4" fill="#2b2b2b" stroke="#2b2b2b" stroke-width="0.08" textLength="15.0" lengthAdjust="spacingAndGlyphs" >PBS</text>
<text x="471.25" y="687.5" font-size="8.4" fill="#2d5b9c" stroke="#2d5b9c" stroke-width="0.08" textLength="26.2" lengthAdjust="spacingAndGlyphs" >αPD-L1</text>
<text transform="translate(408.3,628.8) rotate(-90)" x="0" y="0" font-size="9.6" fill="#2b2b2b" stroke="#2b2b2b" stroke-width="0.08" text-anchor="middle" textLength="59" lengthAdjust="spacingAndGlyphs"><tspan dy="0.00">GZMB</tspan><tspan dy="-3.65" font-size="5.95">+</tspan><tspan dy="3.65">/CD8</tspan><tspan dy="-3.65" font-size="5.95">+</tspan><tspan dy="3.65"> (%)</tspan></text>
</svg>
</body></html>
